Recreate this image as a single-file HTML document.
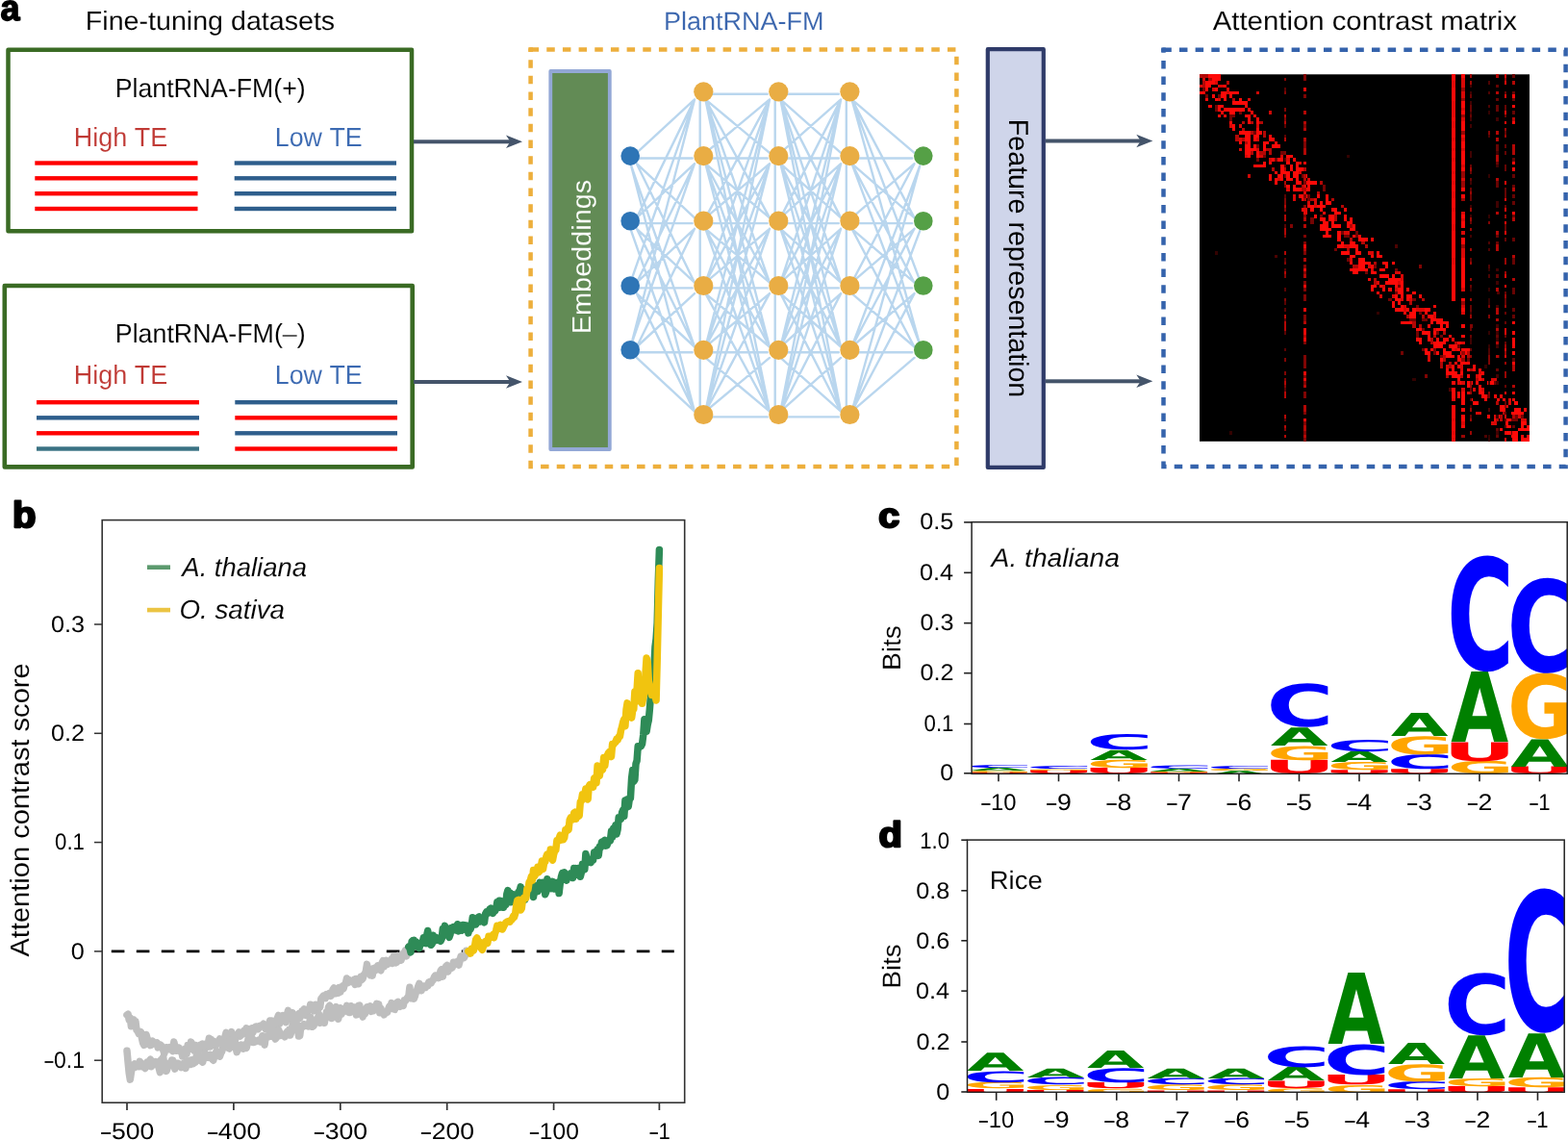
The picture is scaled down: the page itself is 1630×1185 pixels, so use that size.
<!DOCTYPE html>
<html lang="en"><head><meta charset="utf-8"><title>PlantRNA-FM attention contrast</title>
<style>
html,body{margin:0;padding:0;background:#fff;}
body{width:1630px;height:1185px;overflow:hidden;}
svg{display:block;}
text{font-kerning:none;white-space:pre;text-rendering:geometricPrecision;}
</style></head><body>
<svg width="1630" height="1185" viewBox="0 0 1630 1185">
<rect width="1630" height="1185" fill="#fff"/>
<text transform="translate(0.40,20.78) scale(0.9002,0.9446)" font-family="'Liberation Sans',sans-serif" font-size="40" font-weight="bold" fill="#000" stroke="#000" stroke-width="1.63" stroke-linejoin="round">a</text>
<text transform="translate(88.85,30.90) scale(1.0372,1.0000)" font-family="'Liberation Sans',sans-serif" font-size="27.6" fill="#000" stroke="#fff" stroke-width="0.096" paint-order="fill stroke" >Fine-tuning datasets</text>
<rect x="8.5" y="51.8" width="419.5" height="188.5" fill="#fff" stroke="#3A6B24" stroke-width="4.5" stroke-linejoin="round"/>
<rect x="4.8" y="297" width="423.9" height="188.4" fill="#fff" stroke="#3A6B24" stroke-width="4.6" stroke-linejoin="round"/>
<text transform="translate(119.81,101.00) scale(0.9664,1.0000)" font-family="'Liberation Sans',sans-serif" font-size="27.6" fill="#000" stroke="#fff" stroke-width="0.103" paint-order="fill stroke" >PlantRNA-FM(+)</text>
<text transform="translate(119.80,355.50) scale(0.9701,1.0000)" font-family="'Liberation Sans',sans-serif" font-size="27.6" fill="#000" stroke="#fff" stroke-width="0.103" paint-order="fill stroke" >PlantRNA-FM(–)</text>
<text transform="translate(76.79,151.50) scale(0.9766,1.0000)" font-family="'Liberation Sans',sans-serif" font-size="27.6" fill="#C03A35" stroke="#fff" stroke-width="0.102" paint-order="fill stroke" >High TE</text>
<text transform="translate(285.80,151.50) scale(0.9710,1.0000)" font-family="'Liberation Sans',sans-serif" font-size="27.6" fill="#3C6AB2" stroke="#fff" stroke-width="0.103" paint-order="fill stroke" >Low TE</text>
<text transform="translate(76.79,399.00) scale(0.9766,1.0000)" font-family="'Liberation Sans',sans-serif" font-size="27.6" fill="#C03A35" stroke="#fff" stroke-width="0.102" paint-order="fill stroke" >High TE</text>
<text transform="translate(285.80,399.00) scale(0.9710,1.0000)" font-family="'Liberation Sans',sans-serif" font-size="27.6" fill="#3C6AB2" stroke="#fff" stroke-width="0.103" paint-order="fill stroke" >Low TE</text>
<rect x="36.3" y="167.30" width="169.20" height="4.4" fill="#FF0000"/>
<rect x="243.7" y="167.30" width="168.30" height="4.4" fill="#2E5E8C"/>
<rect x="36.3" y="183.10" width="169.20" height="4.4" fill="#FF0000"/>
<rect x="243.7" y="183.10" width="168.30" height="4.4" fill="#2E5E8C"/>
<rect x="36.3" y="199.00" width="169.20" height="4.4" fill="#FF0000"/>
<rect x="243.7" y="199.00" width="168.30" height="4.4" fill="#2E5E8C"/>
<rect x="36.3" y="214.80" width="169.20" height="4.4" fill="#FF0000"/>
<rect x="243.7" y="214.80" width="168.30" height="4.4" fill="#2E5E8C"/>
<rect x="38" y="416.00" width="169.00" height="4.4" fill="#FF0000"/>
<rect x="244.3" y="416.00" width="168.70" height="4.4" fill="#2E5E8C"/>
<rect x="38" y="432.10" width="169.00" height="4.4" fill="#2E5E8C"/>
<rect x="244.3" y="432.10" width="168.70" height="4.4" fill="#FF0000"/>
<rect x="38" y="448.10" width="169.00" height="4.4" fill="#FF0000"/>
<rect x="244.3" y="448.10" width="168.70" height="4.4" fill="#2E5E8C"/>
<rect x="38" y="464.30" width="169.00" height="4.4" fill="#3A7283"/>
<rect x="244.3" y="464.30" width="168.70" height="4.4" fill="#FF0000"/>
<rect x="430" y="145.30" width="103.00" height="4.0" fill="#44546A"/>
<path d="M543,147.3 L526,140.5 L530.5,147.3 L526,154.10000000000002 Z" fill="#44546A"/>
<rect x="430" y="395.00" width="103.00" height="4.0" fill="#44546A"/>
<path d="M543,397.0 L526,390.2 L530.5,397.0 L526,403.8 Z" fill="#44546A"/>
<rect x="1087" y="144.50" width="101.30" height="4.0" fill="#44546A"/>
<path d="M1198.3,146.5 L1181.3,139.7 L1185.8,146.5 L1181.3,153.3 Z" fill="#44546A"/>
<rect x="1087" y="394.30" width="101.30" height="4.0" fill="#44546A"/>
<path d="M1198.3,396.3 L1181.3,389.5 L1185.8,396.3 L1181.3,403.1 Z" fill="#44546A"/>
<rect x="551.6" y="51.6" width="442.80" height="433.40" fill="none" stroke="#EDAF3C" stroke-width="4.5" stroke-dasharray="8.5 8.167" stroke-dashoffset="0.0"/>
<path d="M549.35,53.85 v-2.65 q0,-1.85 1.85,-1.85 h2.65 v4.5 z" fill="#EDAF3C"/>
<text transform="translate(689.98,31.00) scale(1.0157,1.0000)" font-family="'Liberation Sans',sans-serif" font-size="26.6" fill="#3B66AE" stroke="#fff" stroke-width="0.098" paint-order="fill stroke" >PlantRNA-FM</text>
<rect x="572.3" y="74" width="61.5" height="393" fill="#628B55" stroke="#93A8D6" stroke-width="3.8" stroke-linejoin="round"/>
<text transform="translate(613.80,347.17) rotate(-90) scale(1.0455,1.0000)" font-family="'Liberation Sans',sans-serif" font-size="27.6" fill="#fff" stroke="#628B55" stroke-width="0.096" paint-order="fill stroke" >Embeddings</text>
<rect x="1026.8" y="51.2" width="58" height="434.7" fill="#CFD5EA" stroke="#2F3B69" stroke-width="4.2" stroke-linejoin="round"/>
<text transform="translate(1048.60,123.85) rotate(90) scale(1.0005,1.0000)" font-family="'Liberation Sans',sans-serif" font-size="28.6" fill="#000" >Feature representation</text>
<path d="M661.9,158.8L722.0,103.4 M664.2,164.5L719.7,164.5 M661.9,170.2L722.0,226.4 M661.9,170.2L722.0,293.7 M656.2,172.5L722.0,360.5 M656.2,172.5L722.0,427.7 M661.9,226.4L722.0,103.4 M661.9,226.4L722.0,170.2 M664.2,232.1L719.7,232.1 M661.9,237.8L722.0,293.7 M661.9,237.8L722.0,360.5 M656.2,240.1L722.0,427.7 M656.2,291.4L722.0,103.4 M661.9,293.7L722.0,170.2 M661.9,293.7L722.0,237.8 M664.2,299.4L719.7,299.4 M661.9,305.1L722.0,360.5 M661.9,305.1L722.0,427.7 M656.2,358.2L722.0,103.4 M656.2,358.2L722.0,170.2 M661.9,360.5L722.0,237.8 M661.9,360.5L722.0,305.1 M664.2,366.2L719.7,366.2 M661.9,371.9L722.0,427.7 M735.7,97.7L797.7,97.7 M733.4,103.4L800.0,158.8 M733.4,103.4L800.0,226.4 M733.4,103.4L800.0,293.7 M733.4,103.4L800.0,360.5 M733.4,103.4L800.0,427.7 M733.4,158.8L800.0,103.4 M735.7,164.5L797.7,164.5 M733.4,170.2L800.0,226.4 M733.4,170.2L800.0,293.7 M733.4,170.2L800.0,360.5 M733.4,170.2L800.0,427.7 M733.4,226.4L800.0,103.4 M733.4,226.4L800.0,170.2 M735.7,232.1L797.7,232.1 M733.4,237.8L800.0,293.7 M733.4,237.8L800.0,360.5 M733.4,237.8L800.0,427.7 M733.4,293.7L800.0,103.4 M733.4,293.7L800.0,170.2 M733.4,293.7L800.0,237.8 M735.7,299.4L797.7,299.4 M733.4,305.1L800.0,360.5 M733.4,305.1L800.0,427.7 M733.4,360.5L800.0,103.4 M733.4,360.5L800.0,170.2 M733.4,360.5L800.0,237.8 M733.4,360.5L800.0,305.1 M735.7,366.2L797.7,366.2 M733.4,371.9L800.0,427.7 M733.4,427.7L800.0,103.4 M733.4,427.7L800.0,170.2 M733.4,427.7L800.0,237.8 M733.4,427.7L800.0,305.1 M733.4,427.7L800.0,371.9 M735.7,433.4L797.7,433.4 M813.7,97.7L871.8,97.7 M811.4,103.4L874.1,158.8 M811.4,103.4L874.1,226.4 M811.4,103.4L874.1,293.7 M811.4,103.4L874.1,360.5 M811.4,103.4L874.1,427.7 M811.4,158.8L874.1,103.4 M813.7,164.5L871.8,164.5 M811.4,170.2L874.1,226.4 M811.4,170.2L874.1,293.7 M811.4,170.2L874.1,360.5 M811.4,170.2L874.1,427.7 M811.4,226.4L874.1,103.4 M811.4,226.4L874.1,170.2 M813.7,232.1L871.8,232.1 M811.4,237.8L874.1,293.7 M811.4,237.8L874.1,360.5 M811.4,237.8L874.1,427.7 M811.4,293.7L874.1,103.4 M811.4,293.7L874.1,170.2 M811.4,293.7L874.1,237.8 M813.7,299.4L871.8,299.4 M811.4,305.1L874.1,360.5 M811.4,305.1L874.1,427.7 M811.4,360.5L874.1,103.4 M811.4,360.5L874.1,170.2 M811.4,360.5L874.1,237.8 M811.4,360.5L874.1,305.1 M813.7,366.2L871.8,366.2 M811.4,371.9L874.1,427.7 M811.4,427.7L874.1,103.4 M811.4,427.7L874.1,170.2 M811.4,427.7L874.1,237.8 M811.4,427.7L874.1,305.1 M811.4,427.7L874.1,371.9 M813.7,433.4L871.8,433.4 M885.5,103.4L950.5,158.8 M885.5,103.4L950.5,226.4 M885.5,103.4L956.2,291.4 M885.5,103.4L956.2,358.2 M887.8,164.5L948.2,164.5 M885.5,170.2L950.5,226.4 M885.5,170.2L950.5,293.7 M885.5,170.2L956.2,358.2 M885.5,226.4L950.5,170.2 M887.8,232.1L948.2,232.1 M885.5,237.8L950.5,293.7 M885.5,237.8L950.5,360.5 M885.5,293.7L950.5,170.2 M885.5,293.7L950.5,237.8 M887.8,299.4L948.2,299.4 M885.5,305.1L950.5,360.5 M885.5,360.5L956.2,172.5 M885.5,360.5L950.5,237.8 M885.5,360.5L950.5,305.1 M887.8,366.2L948.2,366.2 M885.5,427.7L956.2,172.5 M885.5,427.7L956.2,240.1 M885.5,427.7L950.5,305.1 M885.5,427.7L950.5,371.9 M727.7,97.7V433.4 M805.7,97.7V433.4 M879.8,97.7V433.4" fill="none" stroke="#B9D6EE" stroke-width="2.4" stroke-linecap="round"/>
<circle cx="655.2" cy="162.1" r="9.8" fill="#2E75B6"/>
<circle cx="655.2" cy="229.7" r="9.8" fill="#2E75B6"/>
<circle cx="655.2" cy="297.0" r="9.8" fill="#2E75B6"/>
<circle cx="655.2" cy="363.8" r="9.8" fill="#2E75B6"/>
<circle cx="731.3" cy="95.3" r="10.1" fill="#E9AD44"/>
<circle cx="731.3" cy="162.1" r="10.1" fill="#E9AD44"/>
<circle cx="731.3" cy="229.7" r="10.1" fill="#E9AD44"/>
<circle cx="731.3" cy="297.0" r="10.1" fill="#E9AD44"/>
<circle cx="731.3" cy="363.8" r="10.1" fill="#E9AD44"/>
<circle cx="731.3" cy="431.0" r="10.1" fill="#E9AD44"/>
<circle cx="809.3" cy="95.3" r="10.1" fill="#E9AD44"/>
<circle cx="809.3" cy="162.1" r="10.1" fill="#E9AD44"/>
<circle cx="809.3" cy="229.7" r="10.1" fill="#E9AD44"/>
<circle cx="809.3" cy="297.0" r="10.1" fill="#E9AD44"/>
<circle cx="809.3" cy="363.8" r="10.1" fill="#E9AD44"/>
<circle cx="809.3" cy="431.0" r="10.1" fill="#E9AD44"/>
<circle cx="883.4" cy="95.3" r="10.1" fill="#E9AD44"/>
<circle cx="883.4" cy="162.1" r="10.1" fill="#E9AD44"/>
<circle cx="883.4" cy="229.7" r="10.1" fill="#E9AD44"/>
<circle cx="883.4" cy="297.0" r="10.1" fill="#E9AD44"/>
<circle cx="883.4" cy="363.8" r="10.1" fill="#E9AD44"/>
<circle cx="883.4" cy="431.0" r="10.1" fill="#E9AD44"/>
<circle cx="959.8" cy="162.1" r="9.8" fill="#55A046"/>
<circle cx="959.8" cy="229.7" r="9.8" fill="#55A046"/>
<circle cx="959.8" cy="297.0" r="9.8" fill="#55A046"/>
<circle cx="959.8" cy="363.8" r="9.8" fill="#55A046"/>
<text transform="translate(1260.74,30.90) scale(1.0631,1.0000)" font-family="'Liberation Sans',sans-serif" font-size="27.6" fill="#000" stroke="#fff" stroke-width="0.094" paint-order="fill stroke" >Attention contrast matrix</text>
<rect x="1209.5" y="51.65" width="418.10" height="433.35" fill="none" stroke="#3563AC" stroke-width="4.5" stroke-dasharray="8.5 8.167" stroke-dashoffset="0.2"/>
<path d="M1207.25,53.90 v-2.65 q0,-1.85 1.85,-1.85 h2.65 v4.5 z" fill="#3563AC"/>
<rect x="1247.0" y="77.3" width="343.0" height="381.5" fill="#000"/>
<g shape-rendering="crispEdges">
<path d="M1399.8,160.5h3.1v3.5h-3.1zM1262.6,261.1h3.1v3.5h-3.1zM1431.0,323.5h3.1v3.5h-3.1zM1543.2,379.0h3.1v3.5h-3.1zM1468.4,392.9h3.1v3.5h-3.1zM1278.2,448.4h3.1v3.5h-3.1z" fill="#330201"/>
<path d="M1449.7,254.2h3.1v3.5h-3.1zM1325.0,264.6h3.1v3.5h-3.1zM1555.7,302.7h3.1v3.5h-3.1zM1555.7,368.6h3.1v3.5h-3.1zM1505.8,403.3h3.1v3.5h-3.1zM1543.2,451.9h3.1v3.5h-3.1z" fill="#4d0302"/>
<path d="M1250.1,91.2h3.1v3.5h-3.1zM1253.2,98.1h3.1v3.5h-3.1zM1265.7,98.1h3.1v3.5h-3.1zM1262.6,108.5h3.1v3.5h-3.1zM1262.6,112.0h3.1v3.5h-3.1zM1287.5,115.4h3.1v3.5h-3.1zM1278.2,118.9h6.2v3.5h-6.2zM1278.2,122.4h3.1v3.5h-3.1zM1303.1,136.3h3.1v3.5h-3.1zM1306.2,150.1h3.1v3.5h-3.1zM1331.2,157.1h6.2v3.5h-6.2zM1312.5,160.5h3.1v3.5h-3.1zM1306.2,164.0h3.1v3.5h-3.1zM1325.0,164.0h3.1v3.5h-3.1zM1353.0,181.3h3.1v3.5h-3.1zM1374.8,191.8h3.1v3.5h-3.1zM1374.8,195.2h3.1v3.5h-3.1zM1359.3,202.2h3.1v3.5h-3.1zM1359.3,205.6h3.1v3.5h-3.1zM1371.7,223.0h3.1v3.5h-3.1zM1362.4,226.4h3.1v3.5h-3.1zM1362.4,229.9h3.1v3.5h-3.1zM1393.6,240.3h3.1v3.5h-3.1zM1409.1,240.3h3.1v3.5h-3.1zM1396.7,243.8h6.2v3.5h-6.2zM1409.1,243.8h3.1v3.5h-3.1zM1508.9,254.2h3.1v3.5h-3.1zM1387.3,257.6h3.1v3.5h-3.1zM1399.8,268.1h3.1v3.5h-3.1zM1427.9,275.0h3.1v3.5h-3.1zM1449.7,278.5h3.1v3.5h-3.1zM1418.5,281.9h3.1v3.5h-3.1zM1452.8,295.8h3.1v3.5h-3.1zM1449.7,302.7h3.1v3.5h-3.1zM1443.4,309.7h3.1v3.5h-3.1zM1468.4,309.7h3.1v3.5h-3.1zM1471.5,316.6h3.1v3.5h-3.1zM1474.6,323.5h3.1v3.5h-3.1zM1465.3,330.5h6.2v3.5h-6.2zM1477.7,330.5h6.2v3.5h-6.2zM1477.7,340.9h3.1v3.5h-3.1zM1471.5,344.4h3.1v3.5h-3.1zM1493.3,344.4h3.1v3.5h-3.1zM1471.5,347.8h3.1v3.5h-3.1zM1496.5,347.8h3.1v3.5h-3.1zM1515.2,358.2h3.1v3.5h-3.1zM1477.7,361.7h3.1v3.5h-3.1zM1490.2,361.7h3.1v3.5h-3.1zM1455.9,365.2h3.1v3.5h-3.1zM1490.2,365.2h3.1v3.5h-3.1zM1496.5,368.6h3.1v3.5h-3.1zM1524.5,372.1h3.1v3.5h-3.1zM1552.6,396.4h3.1v3.5h-3.1zM1546.3,410.2h3.1v3.5h-3.1zM1574.4,431.1h3.1v3.5h-3.1zM1580.6,431.1h3.1v3.5h-3.1zM1571.3,434.5h6.2v3.5h-6.2zM1571.3,448.4h3.1v3.5h-3.1z" fill="#730403"/>
<path d="M1340.5,233.4h3.1v3.5h-3.1zM1474.6,275.0h3.1v3.5h-3.1zM1527.6,337.4h3.1v3.5h-3.1zM1480.9,389.4h3.1v3.5h-3.1zM1508.9,424.1h3.1v3.5h-3.1z" fill="#800504"/>
<path d="M1247.0,77.3h9.4v3.5h-9.4zM1256.4,80.8h3.1v3.5h-3.1zM1250.1,84.2h3.1v3.5h-3.1zM1275.1,84.2h3.1v3.5h-3.1zM1250.1,87.7h3.1v3.5h-3.1zM1281.3,101.6h3.1v3.5h-3.1zM1290.7,125.9h3.1v3.5h-3.1zM1300.0,125.9h3.1v3.5h-3.1zM1309.4,125.9h3.1v3.5h-3.1zM1290.7,132.8h3.1v3.5h-3.1zM1300.0,136.3h3.1v3.5h-3.1zM1312.5,136.3h3.1v3.5h-3.1zM1284.4,139.7h3.1v3.5h-3.1zM1312.5,139.7h3.1v3.5h-3.1zM1284.4,143.2h3.1v3.5h-3.1zM1290.7,143.2h3.1v3.5h-3.1zM1293.8,146.7h3.1v3.5h-3.1zM1315.6,153.6h6.2v3.5h-6.2zM1300.0,157.1h3.1v3.5h-3.1zM1309.4,157.1h6.2v3.5h-6.2zM1318.7,157.1h3.1v3.5h-3.1zM1321.8,174.4h3.1v3.5h-3.1zM1371.7,188.3h3.1v3.5h-3.1zM1353.0,191.8h3.1v3.5h-3.1zM1353.0,195.2h3.1v3.5h-3.1zM1368.6,198.7h3.1v3.5h-3.1zM1362.4,205.6h3.1v3.5h-3.1zM1384.2,205.6h3.1v3.5h-3.1zM1393.6,212.6h3.1v3.5h-3.1zM1387.3,223.0h3.1v3.5h-3.1zM1387.3,226.4h3.1v3.5h-3.1zM1402.9,233.4h3.1v3.5h-3.1zM1402.9,247.2h3.1v3.5h-3.1zM1415.4,250.7h3.1v3.5h-3.1zM1418.5,254.2h3.1v3.5h-3.1zM1399.8,257.6h3.1v3.5h-3.1zM1427.9,271.5h3.1v3.5h-3.1zM1406.0,275.0h6.2v3.5h-6.2zM1427.9,288.9h3.1v3.5h-3.1zM1427.9,292.3h3.1v3.5h-3.1zM1477.7,309.7h3.1v3.5h-3.1zM1465.3,313.1h3.1v3.5h-3.1zM1462.2,327.0h3.1v3.5h-3.1zM1477.7,327.0h3.1v3.5h-3.1zM1468.4,333.9h3.1v3.5h-3.1zM1468.4,337.4h3.1v3.5h-3.1zM1474.6,337.4h3.1v3.5h-3.1zM1499.6,344.4h3.1v3.5h-3.1zM1490.2,347.8h3.1v3.5h-3.1zM1487.1,351.3h3.1v3.5h-3.1zM1487.1,354.8h3.1v3.5h-3.1zM1512.0,354.8h3.1v3.5h-3.1zM1524.5,365.2h3.1v3.5h-3.1zM1499.6,368.6h3.1v3.5h-3.1zM1524.5,368.6h3.1v3.5h-3.1zM1499.6,372.1h3.1v3.5h-3.1zM1496.5,375.6h3.1v3.5h-3.1zM1505.8,375.6h3.1v3.5h-3.1zM1496.5,379.0h3.1v3.5h-3.1zM1505.8,379.0h3.1v3.5h-3.1zM1527.6,382.5h3.1v3.5h-3.1zM1502.7,389.4h3.1v3.5h-3.1zM1518.3,389.4h3.1v3.5h-3.1zM1533.9,392.9h3.1v3.5h-3.1zM1561.9,427.6h3.1v3.5h-3.1zM1558.8,431.1h3.1v3.5h-3.1zM1558.8,434.5h3.1v3.5h-3.1z" fill="#b30705"/>
<path d="M1306.2,94.6h3.1v3.5h-3.1zM1318.7,115.4h3.1v3.5h-3.1zM1296.9,181.3h3.1v3.5h-3.1z" fill="#cc0806"/>
<path d="M1250.1,80.8h3.1v3.5h-3.1zM1262.6,84.2h3.1v3.5h-3.1zM1247.0,87.7h3.1v3.5h-3.1zM1265.7,87.7h6.2v3.5h-6.2zM1259.5,91.2h3.1v3.5h-3.1zM1275.1,91.2h3.1v3.5h-3.1zM1275.1,94.6h3.1v3.5h-3.1zM1265.7,101.6h3.1v3.5h-3.1zM1296.9,101.6h3.1v3.5h-3.1zM1278.2,129.3h3.1v3.5h-3.1zM1287.5,129.3h3.1v3.5h-3.1zM1306.2,129.3h3.1v3.5h-3.1zM1287.5,143.2h3.1v3.5h-3.1zM1306.2,143.2h3.1v3.5h-3.1zM1287.5,153.6h3.1v3.5h-3.1zM1306.2,153.6h3.1v3.5h-3.1zM1293.8,160.5h3.1v3.5h-3.1zM1309.4,160.5h3.1v3.5h-3.1zM1331.2,160.5h3.1v3.5h-3.1zM1318.7,164.0h3.1v3.5h-3.1zM1337.4,164.0h3.1v3.5h-3.1zM1349.9,167.5h3.1v3.5h-3.1zM1349.9,177.9h3.1v3.5h-3.1zM1328.1,184.8h3.1v3.5h-3.1zM1359.3,184.8h3.1v3.5h-3.1zM1337.4,195.2h3.1v3.5h-3.1zM1343.7,202.2h3.1v3.5h-3.1zM1343.7,205.6h3.1v3.5h-3.1zM1365.5,205.6h3.1v3.5h-3.1zM1359.3,209.1h3.1v3.5h-3.1zM1365.5,209.1h3.1v3.5h-3.1zM1365.5,212.6h3.1v3.5h-3.1zM1396.7,240.3h6.2v3.5h-6.2zM1396.7,254.2h6.2v3.5h-6.2zM1421.6,261.1h6.2v3.5h-6.2zM1402.9,268.1h3.1v3.5h-3.1zM1421.6,275.0h3.1v3.5h-3.1zM1424.7,278.5h3.1v3.5h-3.1zM1449.7,281.9h6.2v3.5h-6.2zM1455.9,285.4h3.1v3.5h-3.1zM1455.9,288.9h3.1v3.5h-3.1zM1431.0,292.3h3.1v3.5h-3.1zM1452.8,292.3h3.1v3.5h-3.1zM1437.2,295.8h3.1v3.5h-3.1zM1449.7,299.3h3.1v3.5h-3.1zM1434.1,306.2h3.1v3.5h-3.1zM1446.6,306.2h3.1v3.5h-3.1zM1455.9,309.7h3.1v3.5h-3.1zM1465.3,309.7h3.1v3.5h-3.1zM1459.0,316.6h3.1v3.5h-3.1zM1459.0,320.1h3.1v3.5h-3.1zM1471.5,320.1h9.4v3.5h-9.4zM1490.2,327.0h3.1v3.5h-3.1zM1490.2,340.9h3.1v3.5h-3.1zM1512.0,361.7h3.1v3.5h-3.1zM1484.0,368.6h3.1v3.5h-3.1zM1484.0,372.1h3.1v3.5h-3.1zM1502.7,379.0h3.1v3.5h-3.1zM1518.3,379.0h3.1v3.5h-3.1zM1518.3,382.5h3.1v3.5h-3.1zM1537.0,386.0h3.1v3.5h-3.1zM1533.9,389.4h3.1v3.5h-3.1zM1540.1,392.9h3.1v3.5h-3.1zM1549.5,392.9h6.2v3.5h-6.2zM1515.2,396.4h3.1v3.5h-3.1zM1530.8,403.3h3.1v3.5h-3.1zM1540.1,403.3h3.1v3.5h-3.1zM1524.5,406.8h3.1v3.5h-3.1zM1568.2,413.7h3.1v3.5h-3.1zM1568.2,417.2h3.1v3.5h-3.1zM1565.1,420.7h3.1v3.5h-3.1zM1533.9,427.6h6.2v3.5h-6.2zM1552.6,431.1h3.1v3.5h-3.1zM1577.5,431.1h3.1v3.5h-3.1zM1580.6,434.5h6.2v3.5h-6.2zM1549.5,438.0h6.2v3.5h-6.2z" fill="#d90806"/>
<path d="M1256.4,77.3h12.5v3.5h-12.5zM1259.5,80.8h9.4v3.5h-9.4zM1253.2,84.2h9.4v3.5h-9.4zM1253.2,87.7h6.2v3.5h-6.2zM1271.9,87.7h3.1v3.5h-3.1zM1253.2,91.2h3.1v3.5h-3.1zM1262.6,91.2h3.1v3.5h-3.1zM1247.0,94.6h6.2v3.5h-6.2zM1268.8,94.6h6.2v3.5h-6.2zM1278.2,94.6h9.4v3.5h-9.4zM1259.5,98.1h3.1v3.5h-3.1zM1268.8,98.1h6.2v3.5h-6.2zM1278.2,98.1h3.1v3.5h-3.1zM1253.2,101.6h3.1v3.5h-3.1zM1262.6,101.6h3.1v3.5h-3.1zM1271.9,101.6h3.1v3.5h-3.1zM1287.5,101.6h3.1v3.5h-3.1zM1281.3,105.0h15.6v3.5h-15.6zM1256.4,108.5h3.1v3.5h-3.1zM1265.7,108.5h6.2v3.5h-6.2zM1293.8,108.5h3.1v3.5h-3.1zM1265.7,112.0h3.1v3.5h-3.1zM1271.9,112.0h21.8v3.5h-21.8zM1296.9,112.0h3.1v3.5h-3.1zM1268.8,115.4h3.1v3.5h-3.1zM1278.2,115.4h6.2v3.5h-6.2zM1300.0,115.4h3.1v3.5h-3.1zM1265.7,118.9h3.1v3.5h-3.1zM1271.9,118.9h3.1v3.5h-3.1zM1293.8,118.9h6.2v3.5h-6.2zM1303.1,118.9h3.1v3.5h-3.1zM1296.9,122.4h3.1v3.5h-3.1zM1306.2,122.4h3.1v3.5h-3.1zM1278.2,125.9h3.1v3.5h-3.1zM1296.9,125.9h3.1v3.5h-3.1zM1306.2,125.9h3.1v3.5h-3.1zM1281.3,129.3h3.1v3.5h-3.1zM1281.3,132.8h3.1v3.5h-3.1zM1306.2,132.8h3.1v3.5h-3.1zM1287.5,136.3h12.5v3.5h-12.5zM1306.2,136.3h6.2v3.5h-6.2zM1293.8,139.7h6.2v3.5h-6.2zM1303.1,139.7h6.2v3.5h-6.2zM1318.7,139.7h3.1v3.5h-3.1zM1293.8,143.2h6.2v3.5h-6.2zM1303.1,143.2h3.1v3.5h-3.1zM1318.7,143.2h6.2v3.5h-6.2zM1287.5,146.7h3.1v3.5h-3.1zM1296.9,146.7h3.1v3.5h-3.1zM1312.5,146.7h6.2v3.5h-6.2zM1325.0,146.7h3.1v3.5h-3.1zM1293.8,150.1h6.2v3.5h-6.2zM1303.1,150.1h3.1v3.5h-3.1zM1312.5,150.1h3.1v3.5h-3.1zM1321.8,150.1h9.4v3.5h-9.4zM1293.8,153.6h12.5v3.5h-12.5zM1312.5,153.6h3.1v3.5h-3.1zM1293.8,157.1h6.2v3.5h-6.2zM1306.2,157.1h3.1v3.5h-3.1zM1296.9,160.5h3.1v3.5h-3.1zM1306.2,160.5h3.1v3.5h-3.1zM1337.4,160.5h6.2v3.5h-6.2zM1321.8,164.0h3.1v3.5h-3.1zM1328.1,164.0h6.2v3.5h-6.2zM1343.7,164.0h3.1v3.5h-3.1zM1312.5,167.5h3.1v3.5h-3.1zM1318.7,167.5h3.1v3.5h-3.1zM1337.4,167.5h3.1v3.5h-3.1zM1346.8,167.5h3.1v3.5h-3.1zM1303.1,170.9h12.5v3.5h-12.5zM1331.2,170.9h6.2v3.5h-6.2zM1340.5,170.9h3.1v3.5h-3.1zM1346.8,170.9h3.1v3.5h-3.1zM1331.2,174.4h6.2v3.5h-6.2zM1340.5,174.4h3.1v3.5h-3.1zM1346.8,174.4h9.4v3.5h-9.4zM1325.0,177.9h3.1v3.5h-3.1zM1331.2,177.9h9.4v3.5h-9.4zM1343.7,177.9h6.2v3.5h-6.2zM1318.7,181.3h3.1v3.5h-3.1zM1328.1,181.3h6.2v3.5h-6.2zM1337.4,181.3h3.1v3.5h-3.1zM1343.7,181.3h6.2v3.5h-6.2zM1356.1,181.3h3.1v3.5h-3.1zM1318.7,184.8h3.1v3.5h-3.1zM1325.0,184.8h3.1v3.5h-3.1zM1331.2,184.8h3.1v3.5h-3.1zM1337.4,184.8h6.2v3.5h-6.2zM1346.8,184.8h3.1v3.5h-3.1zM1325.0,188.3h3.1v3.5h-3.1zM1346.8,188.3h6.2v3.5h-6.2zM1356.1,188.3h12.5v3.5h-12.5zM1337.4,191.8h3.1v3.5h-3.1zM1343.7,191.8h3.1v3.5h-3.1zM1359.3,191.8h3.1v3.5h-3.1zM1343.7,195.2h9.4v3.5h-9.4zM1356.1,195.2h6.2v3.5h-6.2zM1349.9,202.2h9.4v3.5h-9.4zM1368.6,202.2h3.1v3.5h-3.1zM1378.0,202.2h3.1v3.5h-3.1zM1353.0,205.6h3.1v3.5h-3.1zM1378.0,205.6h3.1v3.5h-3.1zM1371.7,209.1h3.1v3.5h-3.1zM1378.0,209.1h6.2v3.5h-6.2zM1359.3,212.6h6.2v3.5h-6.2zM1368.6,212.6h9.4v3.5h-9.4zM1353.0,216.0h6.2v3.5h-6.2zM1362.4,216.0h3.1v3.5h-3.1zM1371.7,216.0h3.1v3.5h-3.1zM1384.2,216.0h6.2v3.5h-6.2zM1396.7,216.0h3.1v3.5h-3.1zM1356.1,219.5h3.1v3.5h-3.1zM1374.8,219.5h3.1v3.5h-3.1zM1387.3,219.5h6.2v3.5h-6.2zM1365.5,223.0h3.1v3.5h-3.1zM1381.1,223.0h6.2v3.5h-6.2zM1396.7,223.0h3.1v3.5h-3.1zM1371.7,226.4h6.2v3.5h-6.2zM1381.1,226.4h6.2v3.5h-6.2zM1396.7,226.4h3.1v3.5h-3.1zM1402.9,226.4h3.1v3.5h-3.1zM1374.8,229.9h6.2v3.5h-6.2zM1384.2,229.9h3.1v3.5h-3.1zM1399.8,229.9h6.2v3.5h-6.2zM1371.7,233.4h9.4v3.5h-9.4zM1384.2,233.4h9.4v3.5h-9.4zM1399.8,233.4h3.1v3.5h-3.1zM1406.0,233.4h3.1v3.5h-3.1zM1371.7,236.8h12.5v3.5h-12.5zM1402.9,236.8h6.2v3.5h-6.2zM1378.0,240.3h3.1v3.5h-3.1zM1390.4,240.3h3.1v3.5h-3.1zM1374.8,243.8h9.4v3.5h-9.4zM1390.4,243.8h3.1v3.5h-3.1zM1406.0,243.8h3.1v3.5h-3.1zM1412.3,243.8h3.1v3.5h-3.1zM1390.4,247.2h3.1v3.5h-3.1zM1412.3,247.2h9.4v3.5h-9.4zM1424.7,247.2h3.1v3.5h-3.1zM1393.6,250.7h3.1v3.5h-3.1zM1402.9,250.7h6.2v3.5h-6.2zM1390.4,254.2h6.2v3.5h-6.2zM1402.9,254.2h9.4v3.5h-9.4zM1409.1,257.6h3.1v3.5h-3.1zM1393.6,261.1h9.4v3.5h-9.4zM1409.1,261.1h6.2v3.5h-6.2zM1431.0,261.1h3.1v3.5h-3.1zM1402.9,264.6h6.2v3.5h-6.2zM1424.7,264.6h3.1v3.5h-3.1zM1431.0,264.6h6.2v3.5h-6.2zM1412.3,268.1h6.2v3.5h-6.2zM1402.9,271.5h3.1v3.5h-3.1zM1412.3,271.5h12.5v3.5h-12.5zM1437.2,271.5h6.2v3.5h-6.2zM1446.6,271.5h3.1v3.5h-3.1zM1412.3,275.0h6.2v3.5h-6.2zM1424.7,275.0h3.1v3.5h-3.1zM1440.3,275.0h3.1v3.5h-3.1zM1402.9,278.5h18.7v3.5h-18.7zM1434.1,278.5h6.2v3.5h-6.2zM1406.0,281.9h6.2v3.5h-6.2zM1424.7,281.9h6.2v3.5h-6.2zM1434.1,285.4h9.4v3.5h-9.4zM1446.6,285.4h3.1v3.5h-3.1zM1421.6,288.9h3.1v3.5h-3.1zM1443.4,288.9h12.5v3.5h-12.5zM1440.3,292.3h12.5v3.5h-12.5zM1455.9,292.3h3.1v3.5h-3.1zM1424.7,295.8h6.2v3.5h-6.2zM1434.1,295.8h3.1v3.5h-3.1zM1449.7,295.8h3.1v3.5h-3.1zM1455.9,295.8h3.1v3.5h-3.1zM1424.7,299.3h3.1v3.5h-3.1zM1437.2,299.3h3.1v3.5h-3.1zM1443.4,299.3h3.1v3.5h-3.1zM1452.8,299.3h6.2v3.5h-6.2zM1462.2,299.3h3.1v3.5h-3.1zM1431.0,302.7h3.1v3.5h-3.1zM1452.8,302.7h6.2v3.5h-6.2zM1468.4,302.7h3.1v3.5h-3.1zM1449.7,306.2h3.1v3.5h-3.1zM1455.9,306.2h3.1v3.5h-3.1zM1462.2,306.2h6.2v3.5h-6.2zM1474.6,306.2h3.1v3.5h-3.1zM1449.7,309.7h6.2v3.5h-6.2zM1462.2,309.7h3.1v3.5h-3.1zM1446.6,313.1h3.1v3.5h-3.1zM1452.8,313.1h3.1v3.5h-3.1zM1446.6,316.6h3.1v3.5h-3.1zM1455.9,316.6h3.1v3.5h-3.1zM1490.2,316.6h3.1v3.5h-3.1zM1449.7,320.1h9.4v3.5h-9.4zM1462.2,320.1h3.1v3.5h-3.1zM1468.4,320.1h3.1v3.5h-3.1zM1480.9,320.1h6.2v3.5h-6.2zM1459.0,323.5h3.1v3.5h-3.1zM1465.3,323.5h6.2v3.5h-6.2zM1480.9,323.5h3.1v3.5h-3.1zM1490.2,323.5h3.1v3.5h-3.1zM1465.3,327.0h6.2v3.5h-6.2zM1484.0,327.0h6.2v3.5h-6.2zM1487.1,330.5h12.5v3.5h-12.5zM1455.9,333.9h12.5v3.5h-12.5zM1487.1,333.9h3.1v3.5h-3.1zM1493.3,333.9h12.5v3.5h-12.5zM1484.0,337.4h3.1v3.5h-3.1zM1496.5,337.4h3.1v3.5h-3.1zM1502.7,337.4h3.1v3.5h-3.1zM1471.5,340.9h6.2v3.5h-6.2zM1493.3,340.9h9.4v3.5h-9.4zM1477.7,344.4h9.4v3.5h-9.4zM1490.2,344.4h3.1v3.5h-3.1zM1484.0,347.8h3.1v3.5h-3.1zM1505.8,347.8h3.1v3.5h-3.1zM1471.5,351.3h6.2v3.5h-6.2zM1484.0,351.3h3.1v3.5h-3.1zM1493.3,351.3h3.1v3.5h-3.1zM1499.6,351.3h6.2v3.5h-6.2zM1508.9,351.3h3.1v3.5h-3.1zM1474.6,354.8h3.1v3.5h-3.1zM1490.2,354.8h12.5v3.5h-12.5zM1515.2,354.8h6.2v3.5h-6.2zM1490.2,358.2h9.4v3.5h-9.4zM1505.8,358.2h9.4v3.5h-9.4zM1480.9,361.7h3.1v3.5h-3.1zM1487.1,361.7h3.1v3.5h-3.1zM1499.6,361.7h3.1v3.5h-3.1zM1508.9,361.7h3.1v3.5h-3.1zM1515.2,361.7h3.1v3.5h-3.1zM1521.4,361.7h6.2v3.5h-6.2zM1480.9,365.2h6.2v3.5h-6.2zM1493.3,365.2h3.1v3.5h-3.1zM1499.6,365.2h9.4v3.5h-9.4zM1518.3,365.2h6.2v3.5h-6.2zM1502.7,368.6h9.4v3.5h-9.4zM1515.2,368.6h3.1v3.5h-3.1zM1496.5,372.1h3.1v3.5h-3.1zM1515.2,372.1h6.2v3.5h-6.2zM1512.0,375.6h3.1v3.5h-3.1zM1518.3,375.6h9.4v3.5h-9.4zM1508.9,379.0h3.1v3.5h-3.1zM1515.2,379.0h3.1v3.5h-3.1zM1530.8,379.0h3.1v3.5h-3.1zM1502.7,382.5h3.1v3.5h-3.1zM1508.9,382.5h3.1v3.5h-3.1zM1524.5,382.5h3.1v3.5h-3.1zM1530.8,382.5h3.1v3.5h-3.1zM1537.0,382.5h3.1v3.5h-3.1zM1502.7,386.0h12.5v3.5h-12.5zM1518.3,386.0h3.1v3.5h-3.1zM1540.1,386.0h3.1v3.5h-3.1zM1508.9,389.4h9.4v3.5h-9.4zM1524.5,389.4h3.1v3.5h-3.1zM1537.0,389.4h3.1v3.5h-3.1zM1515.2,392.9h3.1v3.5h-3.1zM1537.0,392.9h3.1v3.5h-3.1zM1518.3,396.4h3.1v3.5h-3.1zM1524.5,396.4h6.2v3.5h-6.2zM1533.9,396.4h3.1v3.5h-3.1zM1546.3,396.4h6.2v3.5h-6.2zM1524.5,399.8h3.1v3.5h-3.1zM1537.0,399.8h3.1v3.5h-3.1zM1537.0,403.3h3.1v3.5h-3.1zM1515.2,406.8h3.1v3.5h-3.1zM1537.0,406.8h6.2v3.5h-6.2zM1515.2,410.2h3.1v3.5h-3.1zM1540.1,410.2h6.2v3.5h-6.2zM1552.6,410.2h3.1v3.5h-3.1zM1558.8,410.2h3.1v3.5h-3.1zM1527.6,413.7h3.1v3.5h-3.1zM1543.2,413.7h3.1v3.5h-3.1zM1555.7,413.7h3.1v3.5h-3.1zM1561.9,413.7h3.1v3.5h-3.1zM1530.8,417.2h6.2v3.5h-6.2zM1574.4,417.2h3.1v3.5h-3.1zM1558.8,420.7h6.2v3.5h-6.2zM1558.8,424.1h6.2v3.5h-6.2zM1574.4,424.1h6.2v3.5h-6.2zM1583.8,424.1h3.1v3.5h-3.1zM1571.3,427.6h12.5v3.5h-12.5zM1546.3,431.1h3.1v3.5h-3.1zM1555.7,431.1h3.1v3.5h-3.1zM1552.6,434.5h3.1v3.5h-3.1zM1565.1,434.5h6.2v3.5h-6.2zM1565.1,438.0h3.1v3.5h-3.1zM1580.6,438.0h6.2v3.5h-6.2zM1565.1,441.5h6.2v3.5h-6.2zM1580.6,441.5h3.1v3.5h-3.1zM1586.9,441.5h3.1v3.5h-3.1zM1558.8,444.9h3.1v3.5h-3.1zM1577.5,444.9h12.5v3.5h-12.5zM1565.1,448.4h6.2v3.5h-6.2zM1574.4,448.4h3.1v3.5h-3.1zM1571.3,451.9h6.2v3.5h-6.2zM1580.6,451.9h3.1v3.5h-3.1zM1586.9,451.9h3.1v3.5h-3.1zM1574.4,455.3h3.1v3.5h-3.1zM1580.6,455.3h9.4v3.5h-9.4z" fill="#ff0a08"/>
<path d="M1547.0,115.4h2.0v3.5h-2.0zM1547.0,181.3h2.0v3.5h-2.0zM1547.0,223.0h2.0v3.5h-2.0zM1547.0,278.5h2.0v3.5h-2.0zM1547.0,299.3h2.0v3.5h-2.0zM1547.0,309.7h2.0v3.5h-2.0zM1547.0,313.1h2.0v3.5h-2.0zM1547.0,344.4h2.0v3.5h-2.0zM1547.0,358.2h2.0v3.5h-2.0zM1547.0,451.9h2.0v3.5h-2.0zM1547.0,455.3h2.0v3.5h-2.0z" fill="#330201"/>
<path d="M1528.3,87.7h2.0v3.5h-2.0zM1528.3,94.6h2.0v3.5h-2.0zM1528.3,105.0h2.0v3.5h-2.0zM1528.3,115.4h2.0v3.5h-2.0zM1528.3,122.4h2.0v3.5h-2.0zM1528.3,129.3h2.0v3.5h-2.0zM1528.3,157.1h2.0v3.5h-2.0zM1528.3,160.5h2.0v3.5h-2.0zM1528.3,188.3h2.0v3.5h-2.0zM1528.3,212.6h2.0v3.5h-2.0zM1528.3,223.0h2.0v3.5h-2.0zM1528.3,243.8h2.0v3.5h-2.0zM1528.3,299.3h2.0v3.5h-2.0zM1528.3,323.5h2.0v3.5h-2.0zM1528.3,351.3h2.0v3.5h-2.0zM1528.3,354.8h2.0v3.5h-2.0zM1528.3,420.7h2.0v3.5h-2.0zM1555.4,122.4h2.2v3.5h-2.2zM1555.4,157.1h2.2v3.5h-2.2zM1555.4,170.9h2.2v3.5h-2.2zM1555.4,209.1h2.2v3.5h-2.2zM1555.4,212.6h2.2v3.5h-2.2zM1555.4,278.5h2.2v3.5h-2.2zM1555.4,292.3h2.2v3.5h-2.2zM1555.4,316.6h2.2v3.5h-2.2zM1555.4,337.4h2.2v3.5h-2.2zM1555.4,344.4h2.2v3.5h-2.2zM1555.4,351.3h2.2v3.5h-2.2zM1555.4,358.2h2.2v3.5h-2.2zM1555.4,389.4h2.2v3.5h-2.2zM1555.4,396.4h2.2v3.5h-2.2zM1555.4,431.1h2.2v3.5h-2.2zM1555.4,448.4h2.2v3.5h-2.2z" fill="#400202"/>
<path d="M1547.0,84.2h2.0v3.5h-2.0zM1547.0,94.6h2.0v3.5h-2.0zM1547.0,108.5h2.0v3.5h-2.0zM1547.0,139.7h2.0v3.5h-2.0zM1547.0,250.7h2.0v3.5h-2.0zM1547.0,257.6h2.0v3.5h-2.0zM1547.0,275.0h2.0v3.5h-2.0zM1547.0,285.4h2.0v3.5h-2.0zM1547.0,361.7h2.0v3.5h-2.0zM1547.0,365.2h2.0v3.5h-2.0zM1547.0,396.4h2.0v3.5h-2.0zM1547.0,424.1h2.0v3.5h-2.0z" fill="#4d0302"/>
<path d="M1334.9,91.2h2.2v3.5h-2.2zM1334.9,129.3h2.2v3.5h-2.2zM1334.9,139.7h2.2v3.5h-2.2zM1334.9,164.0h2.2v3.5h-2.2zM1334.9,170.9h2.2v3.5h-2.2zM1334.9,202.2h2.2v3.5h-2.2zM1334.9,233.4h2.2v3.5h-2.2zM1334.9,268.1h2.2v3.5h-2.2zM1334.9,278.5h2.2v3.5h-2.2zM1334.9,299.3h2.2v3.5h-2.2zM1334.9,313.1h2.2v3.5h-2.2zM1334.9,320.1h2.2v3.5h-2.2zM1334.9,330.5h2.2v3.5h-2.2zM1334.9,344.4h2.2v3.5h-2.2zM1334.9,361.7h2.2v3.5h-2.2zM1334.9,403.3h2.2v3.5h-2.2zM1334.9,434.5h2.2v3.5h-2.2z" fill="#590302"/>
<path d="M1528.3,98.1h2.0v3.5h-2.0zM1528.3,108.5h2.0v3.5h-2.0zM1528.3,112.0h2.0v3.5h-2.0zM1528.3,118.9h2.0v3.5h-2.0zM1528.3,170.9h2.0v3.5h-2.0zM1528.3,177.9h2.0v3.5h-2.0zM1528.3,184.8h2.0v3.5h-2.0zM1528.3,195.2h2.0v3.5h-2.0zM1528.3,202.2h2.0v3.5h-2.0zM1528.3,205.6h2.0v3.5h-2.0zM1528.3,229.9h2.0v3.5h-2.0zM1528.3,268.1h2.0v3.5h-2.0zM1528.3,295.8h2.0v3.5h-2.0zM1528.3,316.6h2.0v3.5h-2.0zM1528.3,320.1h2.0v3.5h-2.0zM1528.3,340.9h2.0v3.5h-2.0zM1528.3,347.8h2.0v3.5h-2.0zM1528.3,361.7h2.0v3.5h-2.0zM1528.3,403.3h2.0v3.5h-2.0zM1528.3,413.7h2.0v3.5h-2.0zM1528.3,431.1h2.0v3.5h-2.0zM1555.4,87.7h2.2v3.5h-2.2zM1555.4,101.6h2.2v3.5h-2.2zM1555.4,108.5h2.2v3.5h-2.2zM1555.4,112.0h2.2v3.5h-2.2zM1555.4,150.1h2.2v3.5h-2.2zM1555.4,153.6h2.2v3.5h-2.2zM1555.4,167.5h2.2v3.5h-2.2zM1555.4,188.3h2.2v3.5h-2.2zM1555.4,191.8h2.2v3.5h-2.2zM1555.4,243.8h2.2v3.5h-2.2zM1555.4,250.7h2.2v3.5h-2.2zM1555.4,285.4h2.2v3.5h-2.2zM1555.4,347.8h2.2v3.5h-2.2zM1555.4,382.5h2.2v3.5h-2.2zM1555.4,444.9h2.2v3.5h-2.2zM1555.4,451.9h2.2v3.5h-2.2zM1563.8,94.6h2.4v3.5h-2.4zM1563.8,108.5h2.4v3.5h-2.4zM1563.8,112.0h2.4v3.5h-2.4zM1563.8,118.9h2.4v3.5h-2.4zM1563.8,136.3h2.4v3.5h-2.4zM1563.8,150.1h2.4v3.5h-2.4zM1563.8,157.1h2.4v3.5h-2.4zM1563.8,170.9h2.4v3.5h-2.4zM1563.8,174.4h2.4v3.5h-2.4zM1563.8,195.2h2.4v3.5h-2.4zM1563.8,198.7h2.4v3.5h-2.4zM1563.8,202.2h2.4v3.5h-2.4zM1563.8,212.6h2.4v3.5h-2.4zM1563.8,233.4h2.4v3.5h-2.4zM1563.8,236.8h2.4v3.5h-2.4zM1563.8,247.2h2.4v3.5h-2.4zM1563.8,302.7h2.4v3.5h-2.4zM1563.8,309.7h2.4v3.5h-2.4zM1563.8,313.1h2.4v3.5h-2.4zM1563.8,323.5h2.4v3.5h-2.4zM1563.8,333.9h2.4v3.5h-2.4zM1563.8,347.8h2.4v3.5h-2.4zM1563.8,354.8h2.4v3.5h-2.4zM1563.8,399.8h2.4v3.5h-2.4zM1563.8,417.2h2.4v3.5h-2.4zM1563.8,427.6h2.4v3.5h-2.4zM1563.8,434.5h2.4v3.5h-2.4zM1563.8,441.5h2.4v3.5h-2.4zM1571.9,77.3h3.0v3.5h-3.0zM1571.9,94.6h3.0v3.5h-3.0zM1571.9,101.6h3.0v3.5h-3.0zM1571.9,115.4h3.0v3.5h-3.0zM1571.9,164.0h3.0v3.5h-3.0zM1571.9,181.3h3.0v3.5h-3.0zM1571.9,191.8h3.0v3.5h-3.0zM1571.9,202.2h3.0v3.5h-3.0zM1571.9,209.1h3.0v3.5h-3.0zM1571.9,223.0h3.0v3.5h-3.0zM1571.9,247.2h3.0v3.5h-3.0zM1571.9,268.1h3.0v3.5h-3.0zM1571.9,271.5h3.0v3.5h-3.0zM1571.9,299.3h3.0v3.5h-3.0zM1571.9,302.7h3.0v3.5h-3.0zM1571.9,320.1h3.0v3.5h-3.0zM1571.9,327.0h3.0v3.5h-3.0zM1571.9,372.1h3.0v3.5h-3.0zM1571.9,441.5h3.0v3.5h-3.0z" fill="#660403"/>
<path d="M1334.9,80.8h2.2v3.5h-2.2zM1334.9,94.6h2.2v3.5h-2.2zM1334.9,112.0h2.2v3.5h-2.2zM1334.9,122.4h2.2v3.5h-2.2zM1334.9,157.1h2.2v3.5h-2.2zM1334.9,181.3h2.2v3.5h-2.2zM1334.9,191.8h2.2v3.5h-2.2zM1334.9,205.6h2.2v3.5h-2.2zM1334.9,209.1h2.2v3.5h-2.2zM1334.9,216.0h2.2v3.5h-2.2zM1334.9,243.8h2.2v3.5h-2.2zM1334.9,271.5h2.2v3.5h-2.2zM1334.9,285.4h2.2v3.5h-2.2zM1334.9,309.7h2.2v3.5h-2.2zM1334.9,372.1h2.2v3.5h-2.2zM1334.9,386.0h2.2v3.5h-2.2zM1334.9,392.9h2.2v3.5h-2.2zM1334.9,399.8h2.2v3.5h-2.2zM1334.9,444.9h2.2v3.5h-2.2zM1355.1,77.3h2.4v3.5h-2.4zM1355.1,80.8h2.4v3.5h-2.4zM1355.1,98.1h2.4v3.5h-2.4zM1355.1,129.3h2.4v3.5h-2.4zM1355.1,146.7h2.4v3.5h-2.4zM1355.1,150.1h2.4v3.5h-2.4zM1355.1,188.3h2.4v3.5h-2.4zM1355.1,202.2h2.4v3.5h-2.4zM1355.1,212.6h2.4v3.5h-2.4zM1355.1,223.0h2.4v3.5h-2.4zM1355.1,243.8h2.4v3.5h-2.4zM1355.1,250.7h2.4v3.5h-2.4zM1355.1,261.1h2.4v3.5h-2.4zM1355.1,275.0h2.4v3.5h-2.4zM1355.1,281.9h2.4v3.5h-2.4zM1355.1,292.3h2.4v3.5h-2.4zM1355.1,299.3h2.4v3.5h-2.4zM1355.1,306.2h2.4v3.5h-2.4zM1355.1,309.7h2.4v3.5h-2.4zM1355.1,327.0h2.4v3.5h-2.4zM1355.1,330.5h2.4v3.5h-2.4zM1355.1,354.8h2.4v3.5h-2.4zM1355.1,368.6h2.4v3.5h-2.4zM1355.1,372.1h2.4v3.5h-2.4zM1355.1,375.6h2.4v3.5h-2.4zM1355.1,379.0h2.4v3.5h-2.4zM1355.1,389.4h2.4v3.5h-2.4zM1355.1,396.4h2.4v3.5h-2.4zM1355.1,406.8h2.4v3.5h-2.4zM1355.1,410.2h2.4v3.5h-2.4zM1355.1,427.6h2.4v3.5h-2.4zM1355.1,438.0h2.4v3.5h-2.4zM1355.1,448.4h2.4v3.5h-2.4zM1355.1,455.3h2.4v3.5h-2.4zM1547.0,136.3h2.0v3.5h-2.0zM1547.0,229.9h2.0v3.5h-2.0zM1547.0,316.6h2.0v3.5h-2.0zM1547.0,327.0h2.0v3.5h-2.0zM1547.0,368.6h2.0v3.5h-2.0zM1547.0,372.1h2.0v3.5h-2.0zM1547.0,375.6h2.0v3.5h-2.0zM1547.0,406.8h2.0v3.5h-2.0z" fill="#800504"/>
<path d="M1518.9,91.2h3.8v3.5h-3.8zM1518.9,101.6h3.8v3.5h-3.8zM1518.9,118.9h3.8v3.5h-3.8zM1518.9,136.3h3.8v3.5h-3.8zM1518.9,177.9h3.8v3.5h-3.8zM1518.9,181.3h3.8v3.5h-3.8zM1518.9,188.3h3.8v3.5h-3.8zM1518.9,191.8h3.8v3.5h-3.8zM1518.9,205.6h3.8v3.5h-3.8zM1518.9,254.2h3.8v3.5h-3.8zM1518.9,313.1h3.8v3.5h-3.8zM1518.9,365.2h3.8v3.5h-3.8zM1518.9,372.1h3.8v3.5h-3.8zM1518.9,451.9h3.8v3.5h-3.8zM1528.3,77.3h2.0v3.5h-2.0zM1528.3,84.2h2.0v3.5h-2.0zM1528.3,174.4h2.0v3.5h-2.0zM1528.3,198.7h2.0v3.5h-2.0zM1528.3,216.0h2.0v3.5h-2.0zM1528.3,226.4h2.0v3.5h-2.0zM1528.3,236.8h2.0v3.5h-2.0zM1528.3,257.6h2.0v3.5h-2.0zM1528.3,271.5h2.0v3.5h-2.0zM1528.3,288.9h2.0v3.5h-2.0zM1528.3,309.7h2.0v3.5h-2.0zM1528.3,327.0h2.0v3.5h-2.0zM1528.3,368.6h2.0v3.5h-2.0zM1528.3,396.4h2.0v3.5h-2.0zM1528.3,399.8h2.0v3.5h-2.0zM1528.3,406.8h2.0v3.5h-2.0zM1528.3,424.1h2.0v3.5h-2.0zM1528.3,434.5h2.0v3.5h-2.0zM1528.3,448.4h2.0v3.5h-2.0zM1563.8,80.8h2.4v3.5h-2.4zM1563.8,132.8h2.4v3.5h-2.4zM1563.8,139.7h2.4v3.5h-2.4zM1563.8,223.0h2.4v3.5h-2.4zM1563.8,268.1h2.4v3.5h-2.4zM1563.8,271.5h2.4v3.5h-2.4zM1563.8,281.9h2.4v3.5h-2.4zM1563.8,306.2h2.4v3.5h-2.4zM1563.8,316.6h2.4v3.5h-2.4zM1563.8,358.2h2.4v3.5h-2.4zM1563.8,365.2h2.4v3.5h-2.4zM1563.8,375.6h2.4v3.5h-2.4zM1563.8,386.0h2.4v3.5h-2.4zM1563.8,389.4h2.4v3.5h-2.4zM1563.8,420.7h2.4v3.5h-2.4z" fill="#990604"/>
<path d="M1334.9,118.9h2.2v3.5h-2.2zM1334.9,125.9h2.2v3.5h-2.2zM1334.9,143.2h2.2v3.5h-2.2zM1334.9,174.4h2.2v3.5h-2.2zM1334.9,188.3h2.2v3.5h-2.2zM1334.9,212.6h2.2v3.5h-2.2zM1334.9,223.0h2.2v3.5h-2.2zM1334.9,226.4h2.2v3.5h-2.2zM1334.9,236.8h2.2v3.5h-2.2zM1334.9,240.3h2.2v3.5h-2.2zM1334.9,261.1h2.2v3.5h-2.2zM1334.9,281.9h2.2v3.5h-2.2zM1334.9,327.0h2.2v3.5h-2.2zM1334.9,333.9h2.2v3.5h-2.2zM1334.9,337.4h2.2v3.5h-2.2zM1334.9,340.9h2.2v3.5h-2.2zM1334.9,396.4h2.2v3.5h-2.2zM1334.9,406.8h2.2v3.5h-2.2zM1334.9,410.2h2.2v3.5h-2.2zM1334.9,431.1h2.2v3.5h-2.2zM1334.9,441.5h2.2v3.5h-2.2zM1334.9,451.9h2.2v3.5h-2.2zM1355.1,115.4h2.4v3.5h-2.4zM1355.1,125.9h2.4v3.5h-2.4zM1355.1,132.8h2.4v3.5h-2.4zM1355.1,143.2h2.4v3.5h-2.4zM1355.1,153.6h2.4v3.5h-2.4zM1355.1,157.1h2.4v3.5h-2.4zM1355.1,174.4h2.4v3.5h-2.4zM1355.1,181.3h2.4v3.5h-2.4zM1355.1,184.8h2.4v3.5h-2.4zM1355.1,195.2h2.4v3.5h-2.4zM1355.1,205.6h2.4v3.5h-2.4zM1355.1,226.4h2.4v3.5h-2.4zM1355.1,233.4h2.4v3.5h-2.4zM1355.1,257.6h2.4v3.5h-2.4zM1355.1,268.1h2.4v3.5h-2.4zM1355.1,285.4h2.4v3.5h-2.4zM1355.1,333.9h2.4v3.5h-2.4zM1355.1,347.8h2.4v3.5h-2.4zM1355.1,399.8h2.4v3.5h-2.4zM1355.1,420.7h2.4v3.5h-2.4zM1355.1,424.1h2.4v3.5h-2.4zM1355.1,441.5h2.4v3.5h-2.4zM1355.1,444.9h2.4v3.5h-2.4zM1355.1,451.9h2.4v3.5h-2.4zM1555.4,77.3h2.2v3.5h-2.2zM1555.4,94.6h2.2v3.5h-2.2zM1555.4,136.3h2.2v3.5h-2.2zM1555.4,143.2h2.2v3.5h-2.2zM1555.4,160.5h2.2v3.5h-2.2zM1555.4,164.0h2.2v3.5h-2.2zM1555.4,184.8h2.2v3.5h-2.2zM1555.4,219.5h2.2v3.5h-2.2zM1555.4,240.3h2.2v3.5h-2.2zM1555.4,254.2h2.2v3.5h-2.2zM1555.4,257.6h2.2v3.5h-2.2zM1555.4,299.3h2.2v3.5h-2.2zM1555.4,320.1h2.2v3.5h-2.2zM1555.4,323.5h2.2v3.5h-2.2zM1555.4,330.5h2.2v3.5h-2.2zM1555.4,340.9h2.2v3.5h-2.2zM1555.4,354.8h2.2v3.5h-2.2zM1555.4,368.6h2.2v3.5h-2.2zM1555.4,417.2h2.2v3.5h-2.2zM1555.4,434.5h2.2v3.5h-2.2zM1571.9,84.2h3.0v3.5h-3.0zM1571.9,122.4h3.0v3.5h-3.0zM1571.9,150.1h3.0v3.5h-3.0zM1571.9,153.6h3.0v3.5h-3.0zM1571.9,157.1h3.0v3.5h-3.0zM1571.9,195.2h3.0v3.5h-3.0zM1571.9,226.4h3.0v3.5h-3.0zM1571.9,264.6h3.0v3.5h-3.0zM1571.9,288.9h3.0v3.5h-3.0zM1571.9,379.0h3.0v3.5h-3.0zM1571.9,382.5h3.0v3.5h-3.0zM1571.9,399.8h3.0v3.5h-3.0zM1571.9,431.1h3.0v3.5h-3.0z" fill="#b30705"/>
<path d="M1518.9,80.8h3.8v3.5h-3.8zM1518.9,84.2h3.8v3.5h-3.8zM1518.9,87.7h3.8v3.5h-3.8zM1518.9,94.6h3.8v3.5h-3.8zM1518.9,98.1h3.8v3.5h-3.8zM1518.9,112.0h3.8v3.5h-3.8zM1518.9,122.4h3.8v3.5h-3.8zM1518.9,143.2h3.8v3.5h-3.8zM1518.9,153.6h3.8v3.5h-3.8zM1518.9,170.9h3.8v3.5h-3.8zM1518.9,184.8h3.8v3.5h-3.8zM1518.9,219.5h3.8v3.5h-3.8zM1518.9,226.4h3.8v3.5h-3.8zM1518.9,240.3h3.8v3.5h-3.8zM1518.9,257.6h3.8v3.5h-3.8zM1518.9,261.1h3.8v3.5h-3.8zM1518.9,264.6h3.8v3.5h-3.8zM1518.9,299.3h3.8v3.5h-3.8zM1518.9,316.6h3.8v3.5h-3.8zM1518.9,323.5h3.8v3.5h-3.8zM1518.9,354.8h3.8v3.5h-3.8zM1518.9,368.6h3.8v3.5h-3.8zM1518.9,396.4h3.8v3.5h-3.8zM1518.9,403.3h3.8v3.5h-3.8zM1518.9,438.0h3.8v3.5h-3.8z" fill="#d90806"/>
<path d="M1355.1,91.2h2.4v3.5h-2.4zM1355.1,167.5h2.4v3.5h-2.4zM1355.1,191.8h2.4v3.5h-2.4zM1355.1,198.7h2.4v3.5h-2.4zM1355.1,216.0h2.4v3.5h-2.4zM1355.1,219.5h2.4v3.5h-2.4zM1355.1,254.2h2.4v3.5h-2.4zM1355.1,278.5h2.4v3.5h-2.4zM1355.1,295.8h2.4v3.5h-2.4zM1355.1,320.1h2.4v3.5h-2.4zM1355.1,340.9h2.4v3.5h-2.4zM1355.1,344.4h2.4v3.5h-2.4zM1355.1,351.3h2.4v3.5h-2.4zM1355.1,386.0h2.4v3.5h-2.4zM1355.1,392.9h2.4v3.5h-2.4zM1355.1,434.5h2.4v3.5h-2.4zM1509.3,84.2h4.0v3.5h-4.0zM1509.3,87.7h4.0v3.5h-4.0zM1509.3,105.0h4.0v3.5h-4.0zM1509.3,108.5h4.0v3.5h-4.0zM1509.3,112.0h4.0v3.5h-4.0zM1509.3,115.4h4.0v3.5h-4.0zM1509.3,118.9h4.0v3.5h-4.0zM1509.3,125.9h4.0v3.5h-4.0zM1509.3,129.3h4.0v3.5h-4.0zM1509.3,143.2h4.0v3.5h-4.0zM1509.3,153.6h4.0v3.5h-4.0zM1509.3,164.0h4.0v3.5h-4.0zM1509.3,177.9h4.0v3.5h-4.0zM1509.3,188.3h4.0v3.5h-4.0zM1509.3,198.7h4.0v3.5h-4.0zM1509.3,202.2h4.0v3.5h-4.0zM1509.3,216.0h4.0v3.5h-4.0zM1509.3,233.4h4.0v3.5h-4.0zM1509.3,236.8h4.0v3.5h-4.0zM1509.3,268.1h4.0v3.5h-4.0zM1509.3,271.5h4.0v3.5h-4.0zM1509.3,413.7h4.0v3.5h-4.0zM1509.3,434.5h4.0v3.5h-4.0zM1509.3,448.4h4.0v3.5h-4.0zM1509.3,455.3h4.0v3.5h-4.0zM1563.8,77.3h2.4v3.5h-2.4zM1563.8,84.2h2.4v3.5h-2.4zM1563.8,98.1h2.4v3.5h-2.4zM1563.8,115.4h2.4v3.5h-2.4zM1563.8,125.9h2.4v3.5h-2.4zM1563.8,188.3h2.4v3.5h-2.4zM1563.8,205.6h2.4v3.5h-2.4zM1563.8,216.0h2.4v3.5h-2.4zM1563.8,229.9h2.4v3.5h-2.4zM1563.8,240.3h2.4v3.5h-2.4zM1563.8,285.4h2.4v3.5h-2.4zM1563.8,295.8h2.4v3.5h-2.4zM1563.8,340.9h2.4v3.5h-2.4zM1563.8,344.4h2.4v3.5h-2.4zM1563.8,361.7h2.4v3.5h-2.4zM1563.8,368.6h2.4v3.5h-2.4zM1563.8,406.8h2.4v3.5h-2.4zM1563.8,431.1h2.4v3.5h-2.4zM1563.8,448.4h2.4v3.5h-2.4zM1563.8,455.3h2.4v3.5h-2.4z" fill="#e60907"/>
<path d="M1509.3,77.3h4.0v3.5h-4.0zM1509.3,80.8h4.0v3.5h-4.0zM1509.3,91.2h4.0v3.5h-4.0zM1509.3,94.6h4.0v3.5h-4.0zM1509.3,98.1h4.0v3.5h-4.0zM1509.3,101.6h4.0v3.5h-4.0zM1509.3,122.4h4.0v3.5h-4.0zM1509.3,132.8h4.0v3.5h-4.0zM1509.3,136.3h4.0v3.5h-4.0zM1509.3,139.7h4.0v3.5h-4.0zM1509.3,146.7h4.0v3.5h-4.0zM1509.3,150.1h4.0v3.5h-4.0zM1509.3,157.1h4.0v3.5h-4.0zM1509.3,160.5h4.0v3.5h-4.0zM1509.3,167.5h4.0v3.5h-4.0zM1509.3,170.9h4.0v3.5h-4.0zM1509.3,174.4h4.0v3.5h-4.0zM1509.3,181.3h4.0v3.5h-4.0zM1509.3,184.8h4.0v3.5h-4.0zM1509.3,191.8h4.0v3.5h-4.0zM1509.3,195.2h4.0v3.5h-4.0zM1509.3,205.6h4.0v3.5h-4.0zM1509.3,209.1h4.0v3.5h-4.0zM1509.3,212.6h4.0v3.5h-4.0zM1509.3,219.5h4.0v3.5h-4.0zM1509.3,223.0h4.0v3.5h-4.0zM1509.3,226.4h4.0v3.5h-4.0zM1509.3,229.9h4.0v3.5h-4.0zM1509.3,240.3h4.0v3.5h-4.0zM1509.3,243.8h4.0v3.5h-4.0zM1509.3,247.2h4.0v3.5h-4.0zM1509.3,250.7h4.0v3.5h-4.0zM1509.3,254.2h4.0v3.5h-4.0zM1509.3,257.6h4.0v3.5h-4.0zM1509.3,261.1h4.0v3.5h-4.0zM1509.3,264.6h4.0v3.5h-4.0zM1509.3,275.0h4.0v3.5h-4.0zM1509.3,278.5h4.0v3.5h-4.0zM1509.3,281.9h4.0v3.5h-4.0zM1509.3,285.4h4.0v3.5h-4.0zM1509.3,288.9h4.0v3.5h-4.0zM1509.3,292.3h4.0v3.5h-4.0zM1509.3,295.8h4.0v3.5h-4.0zM1509.3,299.3h4.0v3.5h-4.0zM1509.3,302.7h4.0v3.5h-4.0zM1509.3,306.2h4.0v3.5h-4.0zM1509.3,309.7h4.0v3.5h-4.0zM1509.3,396.4h4.0v3.5h-4.0zM1509.3,403.3h4.0v3.5h-4.0zM1509.3,406.8h4.0v3.5h-4.0zM1509.3,410.2h4.0v3.5h-4.0zM1509.3,420.7h4.0v3.5h-4.0zM1509.3,424.1h4.0v3.5h-4.0zM1509.3,427.6h4.0v3.5h-4.0zM1509.3,431.1h4.0v3.5h-4.0zM1509.3,438.0h4.0v3.5h-4.0zM1509.3,441.5h4.0v3.5h-4.0zM1509.3,444.9h4.0v3.5h-4.0zM1509.3,451.9h4.0v3.5h-4.0zM1518.9,77.3h3.8v3.5h-3.8zM1518.9,105.0h3.8v3.5h-3.8zM1518.9,108.5h3.8v3.5h-3.8zM1518.9,115.4h3.8v3.5h-3.8zM1518.9,125.9h3.8v3.5h-3.8zM1518.9,129.3h3.8v3.5h-3.8zM1518.9,132.8h3.8v3.5h-3.8zM1518.9,139.7h3.8v3.5h-3.8zM1518.9,146.7h3.8v3.5h-3.8zM1518.9,150.1h3.8v3.5h-3.8zM1518.9,157.1h3.8v3.5h-3.8zM1518.9,160.5h3.8v3.5h-3.8zM1518.9,164.0h3.8v3.5h-3.8zM1518.9,167.5h3.8v3.5h-3.8zM1518.9,174.4h3.8v3.5h-3.8zM1518.9,195.2h3.8v3.5h-3.8zM1518.9,202.2h3.8v3.5h-3.8zM1518.9,223.0h3.8v3.5h-3.8zM1518.9,229.9h3.8v3.5h-3.8zM1518.9,233.4h3.8v3.5h-3.8zM1518.9,247.2h3.8v3.5h-3.8zM1518.9,250.7h3.8v3.5h-3.8zM1518.9,268.1h3.8v3.5h-3.8zM1518.9,271.5h3.8v3.5h-3.8zM1518.9,275.0h3.8v3.5h-3.8zM1518.9,278.5h3.8v3.5h-3.8zM1518.9,281.9h3.8v3.5h-3.8zM1518.9,285.4h3.8v3.5h-3.8zM1518.9,288.9h3.8v3.5h-3.8zM1518.9,292.3h3.8v3.5h-3.8zM1518.9,295.8h3.8v3.5h-3.8zM1518.9,309.7h3.8v3.5h-3.8zM1518.9,320.1h3.8v3.5h-3.8zM1518.9,337.4h3.8v3.5h-3.8zM1518.9,347.8h3.8v3.5h-3.8zM1518.9,361.7h3.8v3.5h-3.8zM1518.9,375.6h3.8v3.5h-3.8zM1518.9,406.8h3.8v3.5h-3.8zM1518.9,410.2h3.8v3.5h-3.8zM1518.9,413.7h3.8v3.5h-3.8zM1518.9,417.2h3.8v3.5h-3.8zM1518.9,424.1h3.8v3.5h-3.8zM1518.9,431.1h3.8v3.5h-3.8zM1518.9,434.5h3.8v3.5h-3.8zM1518.9,441.5h3.8v3.5h-3.8zM1571.9,98.1h3.0v3.5h-3.0zM1571.9,108.5h3.0v3.5h-3.0zM1571.9,125.9h3.0v3.5h-3.0zM1571.9,167.5h3.0v3.5h-3.0zM1571.9,174.4h3.0v3.5h-3.0zM1571.9,219.5h3.0v3.5h-3.0zM1571.9,333.9h3.0v3.5h-3.0zM1571.9,344.4h3.0v3.5h-3.0zM1571.9,351.3h3.0v3.5h-3.0zM1571.9,354.8h3.0v3.5h-3.0zM1571.9,358.2h3.0v3.5h-3.0zM1571.9,365.2h3.0v3.5h-3.0zM1571.9,375.6h3.0v3.5h-3.0zM1571.9,406.8h3.0v3.5h-3.0zM1571.9,413.7h3.0v3.5h-3.0zM1571.9,427.6h3.0v3.5h-3.0zM1571.9,448.4h3.0v3.5h-3.0zM1571.9,455.3h3.0v3.5h-3.0z" fill="#ff0a08"/>
</g>
<text transform="translate(13.06,548.43) scale(1.0022,0.9396)" font-family="'Liberation Sans',sans-serif" font-size="40" font-weight="bold" fill="#000" stroke="#000" stroke-width="2.47" stroke-linejoin="round">b</text>
<rect x="106.2" y="540.6" width="605.5" height="605.6" fill="none" stroke="#333" stroke-width="1.6"/>
<rect x="98.0" y="648.25" width="8.2" height="1.5" fill="#333"/>
<text transform="translate(52.88,656.60) scale(1.0500,1.0000)" font-family="'Liberation Sans',sans-serif" font-size="24.0" fill="#000" >0.3</text>
<rect x="98.0" y="761.55" width="8.2" height="1.5" fill="#333"/>
<text transform="translate(53.04,769.90) scale(1.0500,1.0000)" font-family="'Liberation Sans',sans-serif" font-size="24.0" fill="#000" >0.2</text>
<rect x="98.0" y="874.85" width="8.2" height="1.5" fill="#333"/>
<text transform="translate(57.04,883.20) scale(0.9245,1.0000)" font-family="'Liberation Sans',sans-serif" font-size="24.0" fill="#000" >0.1</text>
<rect x="98.0" y="988.15" width="8.2" height="1.5" fill="#333"/>
<text transform="translate(73.77,996.50) scale(1.0500,1.0000)" font-family="'Liberation Sans',sans-serif" font-size="24.0" fill="#000" >0</text>
<rect x="98.0" y="1101.45" width="8.2" height="1.5" fill="#333"/>
<text transform="translate(46.79,1109.80) scale(0.9562,1.0000)" font-family="'Liberation Sans',sans-serif" font-size="24.0" fill="#000" ><tspan textLength="8.81" lengthAdjust="spacingAndGlyphs" stroke="#000" stroke-width="0.4">–</tspan><tspan dx="0.84">0.1</tspan></text>
<rect x="131.15" y="1146.2" width="1.7" height="7.8" fill="#333"/>
<text transform="translate(105.24,1184.10) scale(1.1100,1.0000)" font-family="'Liberation Sans',sans-serif" font-size="24.0" fill="#000" ><tspan textLength="8.81" lengthAdjust="spacingAndGlyphs" stroke="#000" stroke-width="0.4">–</tspan><tspan dx="0.84">500</tspan></text>
<rect x="242.05" y="1146.2" width="1.7" height="7.8" fill="#333"/>
<text transform="translate(216.14,1184.10) scale(1.1100,1.0000)" font-family="'Liberation Sans',sans-serif" font-size="24.0" fill="#000" ><tspan textLength="8.81" lengthAdjust="spacingAndGlyphs" stroke="#000" stroke-width="0.4">–</tspan><tspan dx="0.84">400</tspan></text>
<rect x="352.95" y="1146.2" width="1.7" height="7.8" fill="#333"/>
<text transform="translate(327.04,1184.10) scale(1.1100,1.0000)" font-family="'Liberation Sans',sans-serif" font-size="24.0" fill="#000" ><tspan textLength="8.81" lengthAdjust="spacingAndGlyphs" stroke="#000" stroke-width="0.4">–</tspan><tspan dx="0.84">300</tspan></text>
<rect x="463.85" y="1146.2" width="1.7" height="7.8" fill="#333"/>
<text transform="translate(437.94,1184.10) scale(1.1100,1.0000)" font-family="'Liberation Sans',sans-serif" font-size="24.0" fill="#000" ><tspan textLength="8.81" lengthAdjust="spacingAndGlyphs" stroke="#000" stroke-width="0.4">–</tspan><tspan dx="0.84">200</tspan></text>
<rect x="574.75" y="1146.2" width="1.7" height="7.8" fill="#333"/>
<text transform="translate(550.91,1184.10) scale(1.0249,1.0000)" font-family="'Liberation Sans',sans-serif" font-size="24.0" fill="#000" ><tspan textLength="8.81" lengthAdjust="spacingAndGlyphs" stroke="#000" stroke-width="0.4">–</tspan><tspan dx="0.84">100</tspan></text>
<rect x="684.54" y="1146.2" width="1.7" height="7.8" fill="#333"/>
<text transform="translate(675.65,1184.10) scale(0.9200,1.0000)" font-family="'Liberation Sans',sans-serif" font-size="24.0" fill="#000" ><tspan textLength="8.81" lengthAdjust="spacingAndGlyphs" stroke="#000" stroke-width="0.4">–</tspan><tspan dx="0.84">1</tspan></text>
<text transform="translate(30.30,994.56) rotate(-90) scale(1.0528,1.0000)" font-family="'Liberation Sans',sans-serif" font-size="27.6" fill="#000" stroke="#fff" stroke-width="0.095" paint-order="fill stroke" >Attention contrast score</text>
<line x1="115.8" y1="988.9" x2="700.8" y2="988.9" stroke="#000" stroke-width="2.8" stroke-dasharray="13.6 12.4"/>
<rect x="153" y="587.4" width="24" height="4.6" fill="#5C9A6E"/>
<rect x="153" y="631.8" width="24" height="4.6" fill="#EBC443"/>
<text transform="translate(189.35,598.70) scale(0.9935,1.0000)" font-family="'Liberation Sans',sans-serif" font-size="27.6" fill="#000" font-style="italic" stroke="#fff" stroke-width="0.101" paint-order="fill stroke" >A. thaliana</text>
<text transform="translate(186.50,643.30) scale(1.0050,1.0000)" font-family="'Liberation Sans',sans-serif" font-size="27.6" fill="#000" font-style="italic" stroke="#fff" stroke-width="0.099" paint-order="fill stroke" >O. sativa</text>
<path d="M132.0,1055.1 L133.1,1054.3 L134.2,1060.1 L135.3,1057.8 L136.4,1066.7 L137.5,1062.8 L138.7,1059.8 L139.8,1065.8 L140.9,1061.6 L142.0,1070.8 L143.1,1071.4 L144.2,1074.3 L145.3,1073.4 L146.4,1072.6 L147.5,1079.5 L148.6,1084.1 L149.7,1086.3 L150.9,1085.8 L152.0,1075.6 L153.1,1079.5 L154.2,1081.2 L155.3,1083.7 L156.4,1086.6 L157.5,1086.0 L158.6,1082.2 L159.7,1083.4 L160.8,1085.0 L161.9,1085.0 L163.1,1083.9 L164.2,1088.9 L165.3,1087.0 L166.4,1085.9 L167.5,1086.6 L168.6,1088.9 L169.7,1091.4 L170.8,1095.2 L171.9,1090.2 L173.0,1088.8 L174.1,1089.0 L175.3,1090.5 L176.4,1088.8 L177.5,1090.2 L178.6,1091.4 L179.7,1092.6 L180.8,1083.1 L181.9,1088.1 L183.0,1092.3 L184.1,1092.0 L185.2,1088.8 L186.3,1089.4 L187.4,1093.1 L188.6,1091.1 L189.7,1098.0 L190.8,1093.3 L191.9,1090.6 L193.0,1089.9 L194.1,1095.6 L195.2,1086.4 L196.3,1089.3 L197.4,1090.4 L198.5,1083.1 L199.6,1084.7 L200.8,1086.1 L201.9,1092.0 L203.0,1086.4 L204.1,1086.6 L205.2,1094.0 L206.3,1093.2 L207.4,1089.3 L208.5,1086.1 L209.6,1087.6 L210.7,1085.1 L211.8,1088.3 L213.0,1088.6 L214.1,1085.0 L215.2,1088.5 L216.3,1085.4 L217.4,1079.2 L218.5,1088.0 L219.6,1080.4 L220.7,1086.6 L221.8,1084.6 L222.9,1082.7 L224.0,1086.9 L225.2,1085.8 L226.3,1084.4 L227.4,1082.2 L228.5,1080.0 L229.6,1082.6 L230.7,1081.4 L231.8,1083.0 L232.9,1085.2 L234.0,1077.4 L235.1,1073.3 L236.2,1077.7 L237.4,1079.6 L238.5,1081.6 L239.6,1074.9 L240.7,1072.6 L241.8,1076.7 L242.9,1079.2 L244.0,1083.5 L245.1,1078.2 L246.2,1076.0 L247.3,1075.1 L248.4,1073.0 L249.6,1077.1 L250.7,1075.8 L251.8,1073.0 L252.9,1074.6 L254.0,1071.0 L255.1,1073.7 L256.2,1068.9 L257.3,1070.4 L258.4,1074.4 L259.5,1070.0 L260.6,1072.2 L261.8,1068.9 L262.9,1073.3 L264.0,1069.9 L265.1,1067.6 L266.2,1066.9 L267.3,1067.1 L268.4,1069.8 L269.5,1066.7 L270.6,1066.2 L271.7,1066.6 L272.8,1066.2 L274.0,1064.3 L275.1,1068.0 L276.2,1069.9 L277.3,1067.2 L278.4,1065.3 L279.5,1065.4 L280.6,1061.0 L281.7,1063.1 L282.8,1061.1 L283.9,1064.8 L285.0,1067.3 L286.2,1065.4 L287.3,1063.2 L288.4,1058.4 L289.5,1055.4 L290.6,1064.4 L291.7,1061.7 L292.8,1059.1 L293.9,1055.6 L295.0,1058.4 L296.1,1061.3 L297.2,1062.6 L298.4,1054.6 L299.5,1050.4 L300.6,1058.5 L301.7,1056.8 L302.8,1057.4 L303.9,1052.7 L305.0,1059.7 L306.1,1057.7 L307.2,1056.4 L308.3,1055.6 L309.4,1054.7 L310.5,1053.8 L311.7,1058.6 L312.8,1055.5 L313.9,1050.8 L315.0,1050.5 L316.1,1048.9 L317.2,1050.1 L318.3,1055.5 L319.4,1052.3 L320.5,1050.5 L321.6,1050.1 L322.7,1044.2 L323.9,1044.8 L325.0,1048.1 L326.1,1050.8 L327.2,1049.1 L328.3,1044.3 L329.4,1046.8 L330.5,1049.5 L331.6,1046.4 L332.7,1046.7 L333.8,1038.2 L334.9,1036.9 L336.1,1035.2 L337.2,1037.2 L338.3,1037.6 L339.4,1033.6 L340.5,1034.4 L341.6,1034.5 L342.7,1032.3 L343.8,1035.3 L344.9,1034.0 L346.0,1028.7 L347.1,1027.0 L348.3,1028.3 L349.4,1032.6 L350.5,1031.5 L351.6,1032.1 L352.7,1026.6 L353.8,1031.2 L354.9,1027.4 L356.0,1025.2 L357.1,1027.5 L358.2,1023.3 L359.3,1022.4 L360.5,1017.0 L361.6,1021.6 L362.7,1018.6 L363.8,1020.3 L364.9,1020.5 L366.0,1019.7 L367.1,1021.0 L368.2,1018.3 L369.3,1023.4 L370.4,1017.5 L371.5,1021.5 L372.7,1022.6 L373.8,1017.8 L374.9,1015.5 L376.0,1018.5 L377.1,1017.3 L378.2,1013.2 L379.3,1012.4 L380.4,1009.3 L381.5,1002.4 L382.6,1011.0 L383.7,1010.7 L384.9,1013.7 L386.0,1011.7 L387.1,1014.1 L388.2,1006.8 L389.3,1009.3 L390.4,1005.8 L391.5,1006.7 L392.6,1003.8 L393.7,1007.8 L394.8,1007.6 L395.9,1008.8 L397.1,1000.9 L398.2,998.7 L399.3,1004.7 L400.4,1002.1 L401.5,998.3 L402.6,1002.4 L403.7,1001.2 L404.8,1000.3 L405.9,999.6 L407.0,997.0 L408.1,1001.4 L409.2,994.3 L410.4,999.6 L411.5,1000.8 L412.6,1000.2 L413.7,993.4 L414.8,997.5 L415.9,993.7 L417.0,998.2 L418.1,993.0 L419.2,991.0 L420.3,991.5 L421.4,987.9 L422.6,993.9 L423.7,988.1 L424.8,984.2" fill="none" stroke="#BEBEBE" stroke-width="7.5" stroke-linejoin="round" stroke-linecap="round"/>
<path d="M132.0,1092.3 L133.1,1104.4 L134.2,1115.4 L135.3,1122.1 L136.4,1114.6 L137.5,1110.1 L138.7,1106.9 L139.8,1105.9 L140.9,1109.1 L142.0,1106.9 L143.1,1107.0 L144.2,1108.6 L145.3,1103.4 L146.4,1105.0 L147.5,1108.6 L148.6,1105.9 L149.7,1109.3 L150.9,1110.4 L152.0,1108.8 L153.1,1104.0 L154.2,1104.9 L155.3,1102.8 L156.4,1101.3 L157.5,1108.7 L158.6,1105.9 L159.7,1105.0 L160.8,1106.4 L161.9,1103.7 L163.1,1105.6 L164.2,1103.9 L165.3,1110.6 L166.4,1114.7 L167.5,1101.7 L168.6,1102.0 L169.7,1098.6 L170.8,1108.7 L171.9,1106.5 L173.0,1113.4 L174.1,1110.5 L175.3,1105.3 L176.4,1104.8 L177.5,1107.2 L178.6,1102.0 L179.7,1102.2 L180.8,1106.0 L181.9,1111.2 L183.0,1106.5 L184.1,1105.2 L185.2,1105.3 L186.3,1107.1 L187.4,1107.1 L188.6,1109.7 L189.7,1108.1 L190.8,1105.3 L191.9,1107.0 L193.0,1110.5 L194.1,1102.7 L195.2,1104.0 L196.3,1104.5 L197.4,1102.5 L198.5,1106.4 L199.6,1101.9 L200.8,1105.6 L201.9,1104.0 L203.0,1104.3 L204.1,1097.9 L205.2,1097.2 L206.3,1097.1 L207.4,1100.1 L208.5,1102.7 L209.6,1103.3 L210.7,1104.1 L211.8,1099.9 L213.0,1094.4 L214.1,1096.3 L215.2,1097.9 L216.3,1099.2 L217.4,1097.6 L218.5,1096.6 L219.6,1098.5 L220.7,1101.1 L221.8,1102.2 L222.9,1097.8 L224.0,1094.8 L225.2,1092.5 L226.3,1096.1 L227.4,1096.1 L228.5,1098.1 L229.6,1094.8 L230.7,1092.9 L231.8,1088.5 L232.9,1084.6 L234.0,1087.4 L235.1,1084.5 L236.2,1083.6 L237.4,1089.4 L238.5,1090.0 L239.6,1087.7 L240.7,1080.7 L241.8,1085.4 L242.9,1082.6 L244.0,1080.7 L245.1,1088.8 L246.2,1093.6 L247.3,1089.9 L248.4,1090.1 L249.6,1086.5 L250.7,1086.1 L251.8,1087.0 L252.9,1090.1 L254.0,1086.2 L255.1,1085.7 L256.2,1089.3 L257.3,1084.2 L258.4,1078.1 L259.5,1077.5 L260.6,1082.7 L261.8,1078.2 L262.9,1083.5 L264.0,1083.5 L265.1,1082.9 L266.2,1081.9 L267.3,1082.3 L268.4,1081.7 L269.5,1080.9 L270.6,1082.7 L271.7,1081.5 L272.8,1076.7 L274.0,1080.8 L275.1,1086.1 L276.2,1077.5 L277.3,1078.4 L278.4,1078.0 L279.5,1077.5 L280.6,1074.6 L281.7,1071.9 L282.8,1077.3 L283.9,1075.1 L285.0,1077.1 L286.2,1080.0 L287.3,1078.8 L288.4,1073.4 L289.5,1070.4 L290.6,1072.8 L291.7,1076.5 L292.8,1076.1 L293.9,1075.6 L295.0,1075.1 L296.1,1077.8 L297.2,1075.6 L298.4,1072.6 L299.5,1073.0 L300.6,1070.3 L301.7,1076.0 L302.8,1072.7 L303.9,1066.5 L305.0,1061.3 L306.1,1064.8 L307.2,1067.9 L308.3,1063.8 L309.4,1067.8 L310.5,1077.1 L311.7,1076.7 L312.8,1066.7 L313.9,1068.1 L315.0,1066.6 L316.1,1064.7 L317.2,1066.4 L318.3,1064.9 L319.4,1064.9 L320.5,1066.9 L321.6,1065.0 L322.7,1057.2 L323.9,1060.7 L325.0,1067.3 L326.1,1066.3 L327.2,1060.5 L328.3,1063.2 L329.4,1059.3 L330.5,1058.3 L331.6,1054.2 L332.7,1063.4 L333.8,1061.0 L334.9,1061.8 L336.1,1060.8 L337.2,1063.4 L338.3,1058.0 L339.4,1052.1 L340.5,1053.2 L341.6,1046.7 L342.7,1045.2 L343.8,1049.3 L344.9,1058.5 L346.0,1055.3 L347.1,1051.4 L348.3,1050.6 L349.4,1046.6 L350.5,1048.9 L351.6,1059.2 L352.7,1055.1 L353.8,1047.7 L354.9,1054.4 L356.0,1051.7 L357.1,1049.2 L358.2,1050.8 L359.3,1049.9 L360.5,1045.4 L361.6,1051.9 L362.7,1052.4 L363.8,1052.4 L364.9,1045.8 L366.0,1047.7 L367.1,1046.7 L368.2,1047.2 L369.3,1049.9 L370.4,1054.9 L371.5,1046.6 L372.7,1045.4 L373.8,1045.1 L374.9,1053.9 L376.0,1054.2 L377.1,1057.0 L378.2,1053.1 L379.3,1054.0 L380.4,1050.3 L381.5,1046.7 L382.6,1046.9 L383.7,1050.0 L384.9,1045.8 L386.0,1051.4 L387.1,1047.9 L388.2,1050.7 L389.3,1046.6 L390.4,1046.8 L391.5,1043.3 L392.6,1048.7 L393.7,1043.9 L394.8,1052.8 L395.9,1048.1 L397.1,1052.2 L398.2,1051.9 L399.3,1054.8 L400.4,1052.6 L401.5,1052.6 L402.6,1052.2 L403.7,1049.1 L404.8,1046.0 L405.9,1047.2 L407.0,1042.6 L408.1,1045.8 L409.2,1048.9 L410.4,1049.3 L411.5,1045.9 L412.6,1042.2 L413.7,1041.5 L414.8,1045.3 L415.9,1046.3 L417.0,1043.0 L418.1,1042.3 L419.2,1045.4 L420.3,1039.9 L421.4,1040.4 L422.6,1038.2 L423.7,1036.8 L424.8,1036.0 L425.9,1026.3 L427.0,1037.7 L428.1,1036.0 L429.2,1036.4 L430.3,1038.1 L431.4,1035.3 L432.5,1031.1 L433.6,1029.1 L434.8,1025.1 L435.9,1022.4 L437.0,1025.5 L438.1,1029.6 L439.2,1026.8 L440.3,1025.0 L441.4,1024.9 L442.5,1026.4 L443.6,1024.7 L444.7,1024.7 L445.8,1020.8 L447.0,1020.5 L448.1,1021.8 L449.2,1019.5 L450.3,1018.8 L451.4,1015.6 L452.5,1014.0 L453.6,1013.9 L454.7,1014.1 L455.8,1016.6 L456.9,1015.2 L458.0,1009.2 L459.2,1007.6 L460.3,1015.1 L461.4,1008.9 L462.5,1008.7 L463.6,1004.6 L464.7,1003.6 L465.8,1010.0 L466.9,1006.3 L468.0,1005.8 L469.1,1006.4 L470.2,1005.6 L471.4,1000.2 L472.5,1000.4 L473.6,1000.6 L474.7,1000.5 L475.8,999.1 L476.9,1003.2 L478.0,999.1 L479.1,994.1 L480.2,993.7 L481.3,994.0 L482.4,995.5 L483.6,993.3 L484.7,988.2 L485.8,989.7 L486.9,988.9" fill="none" stroke="#BEBEBE" stroke-width="7.5" stroke-linejoin="round" stroke-linecap="round"/>
<path d="M424.8,984.2 L425.9,985.2 L427.0,989.9 L428.1,978.7 L429.2,977.6 L430.3,977.3 L431.4,981.4 L432.5,979.0 L433.6,983.9 L434.8,982.7 L435.9,985.6 L437.0,980.5 L438.1,981.1 L439.2,979.8 L440.3,974.7 L441.4,980.2 L442.5,980.6 L443.6,972.3 L444.7,967.5 L445.8,975.1 L447.0,974.2 L448.1,982.3 L449.2,981.0 L450.3,972.3 L451.4,974.9 L452.5,977.8 L453.6,974.5 L454.7,975.8 L455.8,977.5 L456.9,977.3 L458.0,978.3 L459.2,975.9 L460.3,965.4 L461.4,969.4 L462.5,962.4 L463.6,968.5 L464.7,968.3 L465.8,972.6 L466.9,974.3 L468.0,971.5 L469.1,964.4 L470.2,964.4 L471.4,963.4 L472.5,963.6 L473.6,967.0 L474.7,967.1 L475.8,960.7 L476.9,967.9 L478.0,966.6 L479.1,963.4 L480.2,967.2 L481.3,961.5 L482.4,962.5 L483.6,961.8 L484.7,962.4 L485.8,962.3 L486.9,969.9 L488.0,962.7 L489.1,966.0 L490.2,962.5 L491.3,953.7 L492.4,955.4 L493.5,960.8 L494.6,961.0 L495.8,958.7 L496.9,953.7 L498.0,953.0 L499.1,958.0 L500.2,954.7 L501.3,956.2 L502.4,956.7 L503.5,958.8 L504.6,950.0 L505.7,947.9 L506.8,949.4 L508.0,948.8 L509.1,945.1 L510.2,944.3 L511.3,947.6 L512.4,949.4 L513.5,944.7 L514.6,946.9 L515.7,944.4 L516.8,937.8 L517.9,940.6 L519.0,936.2 L520.1,943.1 L521.3,936.6 L522.4,937.2 L523.5,943.3 L524.6,937.4 L525.7,940.7 L526.8,929.5 L527.9,925.6 L529.0,933.0 L530.1,927.9 L531.2,937.8 L532.3,935.9 L533.5,929.6 L534.6,934.2 L535.7,936.4 L536.8,929.8 L537.9,929.4 L539.0,927.1 L540.1,926.5 L541.2,921.8 L542.3,930.7 L543.4,930.0 L544.5,929.4 L545.7,935.4 L546.8,929.3 L547.9,925.8 L549.0,925.1 L550.1,925.1 L551.2,920.6 L552.3,925.3 L553.4,920.8 L554.5,932.4 L555.6,925.9 L556.7,923.1 L557.9,920.7 L559.0,926.6 L560.1,921.9 L561.2,917.3 L562.3,920.6 L563.4,922.6 L564.5,917.3 L565.6,919.3 L566.7,929.7 L567.8,926.8 L568.9,913.7 L570.1,918.3 L571.2,922.8 L572.3,916.7 L573.4,923.6 L574.5,916.4 L575.6,919.5 L576.7,924.0 L577.8,917.6 L578.9,918.0 L580.0,917.2 L581.1,928.6 L582.3,918.1 L583.4,911.5 L584.5,907.7 L585.6,910.1 L586.7,906.9 L587.8,911.4 L588.9,915.2 L590.0,909.4 L591.1,909.1 L592.2,910.0 L593.3,907.7 L594.5,908.0 L595.6,912.5 L596.7,902.4 L597.8,905.7 L598.9,902.7 L600.0,909.3 L601.1,908.1 L602.2,902.4 L603.3,911.3 L604.4,906.8 L605.5,898.2 L606.7,901.0 L607.8,903.7 L608.9,887.6 L610.0,892.5 L611.1,896.6 L612.2,896.2 L613.3,894.5 L614.4,896.5 L615.5,893.0 L616.6,894.1 L617.7,886.1 L618.9,888.5 L620.0,886.1 L621.1,882.9 L622.2,889.4 L623.3,880.2 L624.4,881.0 L625.5,875.3 L626.6,874.7 L627.7,876.8 L628.8,873.3 L629.9,879.1 L631.0,878.9 L632.2,874.2 L633.3,872.9 L634.4,873.8 L635.5,864.1 L636.6,870.3 L637.7,861.3 L638.8,862.3 L639.9,857.9 L641.0,867.0 L642.1,862.1 L643.2,849.7 L644.4,850.6 L645.5,851.4 L646.6,844.7 L647.7,841.8 L648.8,848.4 L649.9,831.9 L651.0,839.8 L652.1,831.1 L653.2,838.5 L654.3,830.7 L655.4,829.8 L656.6,809.0 L657.7,800.6 L658.8,812.4 L659.9,810.6 L661.0,794.0 L662.1,790.7 L663.2,775.8 L664.3,777.2 L665.4,775.7 L666.5,775.7 L667.6,773.0 L668.8,763.6 L669.9,747.8 L671.0,755.3 L672.1,760.3 L673.2,753.3 L674.3,748.7 L675.4,736.8 L676.5,722.4 L677.6,719.7 L678.7,711.7 L679.8,695.7 L681.0,672.4 L682.1,664.1 L683.2,647.6 L684.3,604.5 L685.4,571.4" fill="none" stroke="#2E8B57" stroke-width="7.5" stroke-linejoin="round" stroke-linecap="round"/>
<path d="M486.9,988.9 L488.0,988.3 L489.1,991.1 L490.2,986.3 L491.3,987.0 L492.4,987.9 L493.5,983.5 L494.6,976.8 L495.8,974.9 L496.9,977.7 L498.0,982.0 L499.1,979.4 L500.2,985.8 L501.3,987.2 L502.4,983.9 L503.5,981.4 L504.6,978.5 L505.7,978.1 L506.8,980.4 L508.0,973.3 L509.1,973.8 L510.2,973.3 L511.3,973.6 L512.4,971.7 L513.5,974.7 L514.6,970.2 L515.7,967.2 L516.8,962.4 L517.9,965.7 L519.0,962.2 L520.1,961.4 L521.3,963.8 L522.4,965.9 L523.5,963.3 L524.6,961.3 L525.7,959.2 L526.8,958.3 L527.9,957.7 L529.0,957.6 L530.1,958.2 L531.2,956.2 L532.3,955.9 L533.5,952.4 L534.6,953.2 L535.7,949.7 L536.8,940.8 L537.9,935.8 L539.0,935.3 L540.1,937.8 L541.2,946.0 L542.3,944.2 L543.4,935.5 L544.5,933.4 L545.7,932.6 L546.8,933.5 L547.9,924.3 L549.0,924.5 L550.1,917.0 L551.2,915.7 L552.3,911.3 L553.4,915.2 L554.5,904.6 L555.6,910.7 L556.7,908.9 L557.9,906.9 L559.0,901.2 L560.1,906.7 L561.2,905.1 L562.3,900.9 L563.4,895.0 L564.5,903.5 L565.6,897.2 L566.7,895.9 L567.8,890.7 L568.9,887.9 L570.1,887.7 L571.2,891.3 L572.3,883.0 L573.4,891.9 L574.5,894.1 L575.6,888.1 L576.7,884.7 L577.8,883.5 L578.9,873.8 L580.0,874.7 L581.1,871.8 L582.3,868.2 L583.4,873.2 L584.5,872.1 L585.6,872.7 L586.7,870.7 L587.8,862.9 L588.9,863.9 L590.0,860.7 L591.1,862.3 L592.2,852.2 L593.3,849.8 L594.5,850.0 L595.6,851.6 L596.7,845.1 L597.8,844.3 L598.9,851.2 L600.0,844.4 L601.1,848.7 L602.2,847.8 L603.3,833.5 L604.4,832.6 L605.5,825.7 L606.7,828.5 L607.8,825.4 L608.9,820.0 L610.0,826.0 L611.1,831.0 L612.2,817.3 L613.3,815.4 L614.4,815.6 L615.5,814.8 L616.6,818.2 L617.7,808.8 L618.9,808.0 L620.0,813.7 L621.1,796.0 L622.2,797.6 L623.3,806.5 L624.4,798.3 L625.5,798.3 L626.6,800.0 L627.7,787.4 L628.8,795.9 L629.9,787.2 L631.0,787.0 L632.2,783.0 L633.3,781.8 L634.4,783.7 L635.5,786.5 L636.6,773.5 L637.7,774.1 L638.8,772.3 L639.9,771.5 L641.0,768.1 L642.1,769.2 L643.2,766.0 L644.4,765.7 L645.5,759.2 L646.6,755.5 L647.7,750.6 L648.8,747.7 L649.9,754.8 L651.0,737.7 L652.1,730.9 L653.2,739.1 L654.3,736.2 L655.4,744.1 L656.6,746.1 L657.7,738.7 L658.8,737.0 L659.9,718.9 L661.0,725.5 L662.1,717.1 L663.2,699.8 L664.3,728.8 L665.4,720.6 L666.5,709.3 L667.6,731.3 L668.8,724.7 L669.9,720.5 L671.0,700.4 L672.1,684.1 L673.2,687.8 L674.3,707.5 L675.4,713.0 L676.5,713.6 L677.6,722.5 L678.7,717.6 L679.8,718.2 L681.0,723.2 L682.1,728.0 L683.2,686.5 L684.3,637.5 L685.4,590.4" fill="none" stroke="#F1C40F" stroke-width="7.5" stroke-linejoin="round" stroke-linecap="round"/>
<clipPath id="clipc"><rect x="1010.1" y="542.7" width="619.1" height="261.5999999999999"/></clipPath>
<g clip-path="url(#clipc)">
<text transform="translate(1000.07,804.46) scale(0.4702,0.0128)" font-family="'DejaVu Sans','Liberation Sans',sans-serif" font-size="200" fill="#FF0000" font-weight="bold" >U</text>
<text transform="translate(1004.48,802.56) scale(0.4238,0.0132)" font-family="'DejaVu Sans','Liberation Sans',sans-serif" font-size="200" fill="#FFA500" font-weight="bold" >G</text>
<text transform="translate(1008.32,800.60) scale(0.3867,0.0206)" font-family="'DejaVu Sans','Liberation Sans',sans-serif" font-size="200" fill="#008000" font-weight="bold" >A</text>
<text transform="translate(1003.95,797.54) scale(0.4765,0.0205)" font-family="'DejaVu Sans','Liberation Sans',sans-serif" font-size="200" fill="#0000FF" font-weight="bold" >C</text>
<text transform="translate(1062.57,804.43) scale(0.4702,0.0256)" font-family="'DejaVu Sans','Liberation Sans',sans-serif" font-size="200" fill="#FF0000" font-weight="bold" >U</text>
<text transform="translate(1066.98,800.67) scale(0.4238,0.0099)" font-family="'DejaVu Sans','Liberation Sans',sans-serif" font-size="200" fill="#FFA500" font-weight="bold" >G</text>
<text transform="translate(1066.45,799.14) scale(0.4765,0.0198)" font-family="'DejaVu Sans','Liberation Sans',sans-serif" font-size="200" fill="#0000FF" font-weight="bold" >C</text>
<text transform="translate(1125.07,804.38) scale(0.4702,0.0410)" font-family="'DejaVu Sans','Liberation Sans',sans-serif" font-size="200" fill="#FF0000" font-weight="bold" >U</text>
<text transform="translate(1129.48,798.24) scale(0.4238,0.0555)" font-family="'DejaVu Sans','Liberation Sans',sans-serif" font-size="200" fill="#FFA500" font-weight="bold" >G</text>
<text transform="translate(1133.32,790.00) scale(0.3867,0.0706)" font-family="'DejaVu Sans','Liberation Sans',sans-serif" font-size="200" fill="#008000" font-weight="bold" >A</text>
<text transform="translate(1128.95,779.39) scale(0.4765,0.1084)" font-family="'DejaVu Sans','Liberation Sans',sans-serif" font-size="200" fill="#0000FF" font-weight="bold" >C</text>
<text transform="translate(1187.57,804.46) scale(0.4702,0.0128)" font-family="'DejaVu Sans','Liberation Sans',sans-serif" font-size="200" fill="#FF0000" font-weight="bold" >U</text>
<text transform="translate(1191.98,802.58) scale(0.4238,0.0066)" font-family="'DejaVu Sans','Liberation Sans',sans-serif" font-size="200" fill="#FFA500" font-weight="bold" >G</text>
<text transform="translate(1195.82,801.60) scale(0.3867,0.0206)" font-family="'DejaVu Sans','Liberation Sans',sans-serif" font-size="200" fill="#008000" font-weight="bold" >A</text>
<text transform="translate(1191.45,798.53) scale(0.4765,0.0238)" font-family="'DejaVu Sans','Liberation Sans',sans-serif" font-size="200" fill="#0000FF" font-weight="bold" >C</text>
<text transform="translate(1258.32,804.50) scale(0.3867,0.0254)" font-family="'DejaVu Sans','Liberation Sans',sans-serif" font-size="200" fill="#008000" font-weight="bold" >A</text>
<text transform="translate(1254.48,800.76) scale(0.4238,0.0145)" font-family="'DejaVu Sans','Liberation Sans',sans-serif" font-size="200" fill="#FFA500" font-weight="bold" >G</text>
<text transform="translate(1253.95,798.54) scale(0.4765,0.0205)" font-family="'DejaVu Sans','Liberation Sans',sans-serif" font-size="200" fill="#0000FF" font-weight="bold" >C</text>
<text transform="translate(1312.57,804.22) scale(0.4702,0.0989)" font-family="'DejaVu Sans','Liberation Sans',sans-serif" font-size="200" fill="#FF0000" font-weight="bold" >U</text>
<text transform="translate(1316.98,789.52) scale(0.4238,0.0972)" font-family="'DejaVu Sans','Liberation Sans',sans-serif" font-size="200" fill="#FFA500" font-weight="bold" >G</text>
<text transform="translate(1320.82,775.10) scale(0.3867,0.1289)" font-family="'DejaVu Sans','Liberation Sans',sans-serif" font-size="200" fill="#008000" font-weight="bold" >A</text>
<text transform="translate(1316.45,755.44) scale(0.4765,0.3021)" font-family="'DejaVu Sans','Liberation Sans',sans-serif" font-size="200" fill="#0000FF" font-weight="bold" >C</text>
<text transform="translate(1375.07,804.43) scale(0.4702,0.0262)" font-family="'DejaVu Sans','Liberation Sans',sans-serif" font-size="200" fill="#FF0000" font-weight="bold" >U</text>
<text transform="translate(1379.48,800.45) scale(0.4238,0.0542)" font-family="'DejaVu Sans','Liberation Sans',sans-serif" font-size="200" fill="#FFA500" font-weight="bold" >G</text>
<text transform="translate(1383.32,792.40) scale(0.3867,0.0775)" font-family="'DejaVu Sans','Liberation Sans',sans-serif" font-size="200" fill="#008000" font-weight="bold" >A</text>
<text transform="translate(1378.95,780.87) scale(0.4765,0.0800)" font-family="'DejaVu Sans','Liberation Sans',sans-serif" font-size="200" fill="#0000FF" font-weight="bold" >C</text>
<text transform="translate(1437.57,804.40) scale(0.4702,0.0336)" font-family="'DejaVu Sans','Liberation Sans',sans-serif" font-size="200" fill="#FF0000" font-weight="bold" >U</text>
<text transform="translate(1441.45,799.22) scale(0.4765,0.1005)" font-family="'DejaVu Sans','Liberation Sans',sans-serif" font-size="200" fill="#0000FF" font-weight="bold" >C</text>
<text transform="translate(1441.98,783.94) scale(0.4238,0.1269)" font-family="'DejaVu Sans','Liberation Sans',sans-serif" font-size="200" fill="#FFA500" font-weight="bold" >G</text>
<text transform="translate(1445.82,765.10) scale(0.3867,0.1653)" font-family="'DejaVu Sans','Liberation Sans',sans-serif" font-size="200" fill="#008000" font-weight="bold" >A</text>
<text transform="translate(1504.48,804.25) scale(0.4238,0.0886)" font-family="'DejaVu Sans','Liberation Sans',sans-serif" font-size="200" fill="#FFA500" font-weight="bold" >G</text>
<text transform="translate(1500.07,790.72) scale(0.4702,0.1339)" font-family="'DejaVu Sans','Liberation Sans',sans-serif" font-size="200" fill="#FF0000" font-weight="bold" >U</text>
<text transform="translate(1508.32,771.20) scale(0.3867,0.5014)" font-family="'DejaVu Sans','Liberation Sans',sans-serif" font-size="200" fill="#008000" font-weight="bold" >A</text>
<text transform="translate(1503.95,695.84) scale(0.4765,0.7979)" font-family="'DejaVu Sans','Liberation Sans',sans-serif" font-size="200" fill="#0000FF" font-weight="bold" >C</text>
<text transform="translate(1562.57,804.36) scale(0.4702,0.0505)" font-family="'DejaVu Sans','Liberation Sans',sans-serif" font-size="200" fill="#FF0000" font-weight="bold" >U</text>
<text transform="translate(1570.82,797.00) scale(0.3867,0.1955)" font-family="'DejaVu Sans','Liberation Sans',sans-serif" font-size="200" fill="#008000" font-weight="bold" >A</text>
<text transform="translate(1566.98,767.21) scale(0.4238,0.4555)" font-family="'DejaVu Sans','Liberation Sans',sans-serif" font-size="200" fill="#FFA500" font-weight="bold" >G</text>
<text transform="translate(1566.45,697.74) scale(0.4765,0.6551)" font-family="'DejaVu Sans','Liberation Sans',sans-serif" font-size="200" fill="#0000FF" font-weight="bold" >C</text>
</g>
<rect x="1010.1" y="542.7" width="619.1" height="261.5999999999999" fill="none" stroke="#222" stroke-width="1.5"/>
<rect x="1002.1" y="542.10" width="8.0" height="1.6" fill="#222"/>
<text transform="translate(956.33,550.10) scale(1.0500,1.0000)" font-family="'Liberation Sans',sans-serif" font-size="24.0" fill="#000" >0.5</text>
<rect x="1002.1" y="594.50" width="8.0" height="1.6" fill="#222"/>
<text transform="translate(956.01,602.50) scale(1.0500,1.0000)" font-family="'Liberation Sans',sans-serif" font-size="24.0" fill="#000" >0.4</text>
<rect x="1002.1" y="646.90" width="8.0" height="1.6" fill="#222"/>
<text transform="translate(956.38,654.90) scale(1.0500,1.0000)" font-family="'Liberation Sans',sans-serif" font-size="24.0" fill="#000" >0.3</text>
<rect x="1002.1" y="698.90" width="8.0" height="1.6" fill="#222"/>
<text transform="translate(956.54,706.90) scale(1.0500,1.0000)" font-family="'Liberation Sans',sans-serif" font-size="24.0" fill="#000" >0.2</text>
<rect x="1002.1" y="751.70" width="8.0" height="1.6" fill="#222"/>
<text transform="translate(960.54,759.70) scale(0.9245,1.0000)" font-family="'Liberation Sans',sans-serif" font-size="24.0" fill="#000" >0.1</text>
<rect x="1002.1" y="803.00" width="8.0" height="1.6" fill="#222"/>
<text transform="translate(977.27,811.00) scale(1.0500,1.0000)" font-family="'Liberation Sans',sans-serif" font-size="24.0" fill="#000" >0</text>
<rect x="1037.20" y="804.3" width="1.6" height="8.0" fill="#222"/>
<text transform="translate(1020.42,841.90) scale(0.9929,1.0000)" font-family="'Liberation Sans',sans-serif" font-size="24.0" fill="#000" ><tspan textLength="8.81" lengthAdjust="spacingAndGlyphs" stroke="#000" stroke-width="0.4">–</tspan><tspan dx="0.84">10</tspan></text>
<rect x="1099.70" y="804.3" width="1.6" height="8.0" fill="#222"/>
<text transform="translate(1088.37,841.90) scale(1.1100,1.0000)" font-family="'Liberation Sans',sans-serif" font-size="24.0" fill="#000" ><tspan textLength="8.81" lengthAdjust="spacingAndGlyphs" stroke="#000" stroke-width="0.4">–</tspan><tspan dx="0.84">9</tspan></text>
<rect x="1162.20" y="804.3" width="1.6" height="8.0" fill="#222"/>
<text transform="translate(1150.82,841.90) scale(1.1100,1.0000)" font-family="'Liberation Sans',sans-serif" font-size="24.0" fill="#000" ><tspan textLength="8.81" lengthAdjust="spacingAndGlyphs" stroke="#000" stroke-width="0.4">–</tspan><tspan dx="0.84">8</tspan></text>
<rect x="1224.70" y="804.3" width="1.6" height="8.0" fill="#222"/>
<text transform="translate(1213.41,841.90) scale(1.1100,1.0000)" font-family="'Liberation Sans',sans-serif" font-size="24.0" fill="#000" ><tspan textLength="8.81" lengthAdjust="spacingAndGlyphs" stroke="#000" stroke-width="0.4">–</tspan><tspan dx="0.84">7</tspan></text>
<rect x="1287.20" y="804.3" width="1.6" height="8.0" fill="#222"/>
<text transform="translate(1275.82,841.90) scale(1.1100,1.0000)" font-family="'Liberation Sans',sans-serif" font-size="24.0" fill="#000" ><tspan textLength="8.81" lengthAdjust="spacingAndGlyphs" stroke="#000" stroke-width="0.4">–</tspan><tspan dx="0.84">6</tspan></text>
<rect x="1349.70" y="804.3" width="1.6" height="8.0" fill="#222"/>
<text transform="translate(1338.30,841.90) scale(1.1100,1.0000)" font-family="'Liberation Sans',sans-serif" font-size="24.0" fill="#000" ><tspan textLength="8.81" lengthAdjust="spacingAndGlyphs" stroke="#000" stroke-width="0.4">–</tspan><tspan dx="0.84">5</tspan></text>
<rect x="1412.20" y="804.3" width="1.6" height="8.0" fill="#222"/>
<text transform="translate(1400.63,841.90) scale(1.1100,1.0000)" font-family="'Liberation Sans',sans-serif" font-size="24.0" fill="#000" ><tspan textLength="8.81" lengthAdjust="spacingAndGlyphs" stroke="#000" stroke-width="0.4">–</tspan><tspan dx="0.84">4</tspan></text>
<rect x="1474.70" y="804.3" width="1.6" height="8.0" fill="#222"/>
<text transform="translate(1463.32,841.90) scale(1.1100,1.0000)" font-family="'Liberation Sans',sans-serif" font-size="24.0" fill="#000" ><tspan textLength="8.81" lengthAdjust="spacingAndGlyphs" stroke="#000" stroke-width="0.4">–</tspan><tspan dx="0.84">3</tspan></text>
<rect x="1537.20" y="804.3" width="1.6" height="8.0" fill="#222"/>
<text transform="translate(1525.91,841.90) scale(1.1100,1.0000)" font-family="'Liberation Sans',sans-serif" font-size="24.0" fill="#000" ><tspan textLength="8.81" lengthAdjust="spacingAndGlyphs" stroke="#000" stroke-width="0.4">–</tspan><tspan dx="0.84">2</tspan></text>
<rect x="1599.70" y="804.3" width="1.6" height="8.0" fill="#222"/>
<text transform="translate(1590.46,841.90) scale(0.9200,1.0000)" font-family="'Liberation Sans',sans-serif" font-size="24.0" fill="#000" ><tspan textLength="8.81" lengthAdjust="spacingAndGlyphs" stroke="#000" stroke-width="0.4">–</tspan><tspan dx="0.84">1</tspan></text>
<text transform="translate(1030.59,589.10) scale(1.0415,1.0000)" font-family="'Liberation Sans',sans-serif" font-size="27.1" fill="#000" font-style="italic" stroke="#fff" stroke-width="0.096" paint-order="fill stroke" >A. thaliana</text>
<text transform="translate(936.20,697.11) rotate(-90) scale(1.0607,1.0000)" font-family="'Liberation Sans',sans-serif" font-size="26.6" fill="#000" stroke="#fff" stroke-width="0.094" paint-order="fill stroke" >Bits</text>
<text transform="translate(913.36,548.35) scale(0.9840,0.8898)" font-family="'Liberation Sans',sans-serif" font-size="40" font-weight="bold" fill="#000" stroke="#000" stroke-width="2.56" stroke-linejoin="round">c</text>
<clipPath id="clipd"><rect x="1005.5" y="873.1" width="620.7" height="262.19999999999993"/></clipPath>
<g clip-path="url(#clipd)">
<text transform="translate(996.83,1135.72) scale(0.4670,0.0283)" font-family="'DejaVu Sans','Liberation Sans',sans-serif" font-size="200" fill="#FF0000" font-weight="bold" >U</text>
<text transform="translate(1001.21,1131.48) scale(0.4209,0.0436)" font-family="'DejaVu Sans','Liberation Sans',sans-serif" font-size="200" fill="#FFA500" font-weight="bold" >G</text>
<text transform="translate(1000.69,1124.78) scale(0.4733,0.0780)" font-family="'DejaVu Sans','Liberation Sans',sans-serif" font-size="200" fill="#0000FF" font-weight="bold" >C</text>
<text transform="translate(1005.02,1113.20) scale(0.3841,0.1276)" font-family="'DejaVu Sans','Liberation Sans',sans-serif" font-size="200" fill="#008000" font-weight="bold" >A</text>
<text transform="translate(1059.36,1135.74) scale(0.4670,0.0209)" font-family="'DejaVu Sans','Liberation Sans',sans-serif" font-size="200" fill="#FF0000" font-weight="bold" >U</text>
<text transform="translate(1063.74,1132.60) scale(0.4209,0.0337)" font-family="'DejaVu Sans','Liberation Sans',sans-serif" font-size="200" fill="#FFA500" font-weight="bold" >G</text>
<text transform="translate(1063.22,1127.46) scale(0.4733,0.0502)" font-family="'DejaVu Sans','Liberation Sans',sans-serif" font-size="200" fill="#0000FF" font-weight="bold" >C</text>
<text transform="translate(1067.55,1120.00) scale(0.3841,0.0638)" font-family="'DejaVu Sans','Liberation Sans',sans-serif" font-size="200" fill="#008000" font-weight="bold" >A</text>
<text transform="translate(1126.27,1135.72) scale(0.4209,0.0297)" font-family="'DejaVu Sans','Liberation Sans',sans-serif" font-size="200" fill="#FFA500" font-weight="bold" >G</text>
<text transform="translate(1121.89,1131.18) scale(0.4670,0.0424)" font-family="'DejaVu Sans','Liberation Sans',sans-serif" font-size="200" fill="#FF0000" font-weight="bold" >U</text>
<text transform="translate(1125.75,1124.72) scale(0.4733,0.0998)" font-family="'DejaVu Sans','Liberation Sans',sans-serif" font-size="200" fill="#0000FF" font-weight="bold" >C</text>
<text transform="translate(1130.08,1109.90) scale(0.3841,0.1235)" font-family="'DejaVu Sans','Liberation Sans',sans-serif" font-size="200" fill="#008000" font-weight="bold" >A</text>
<text transform="translate(1184.42,1135.75) scale(0.4670,0.0168)" font-family="'DejaVu Sans','Liberation Sans',sans-serif" font-size="200" fill="#FF0000" font-weight="bold" >U</text>
<text transform="translate(1188.80,1133.19) scale(0.4209,0.0377)" font-family="'DejaVu Sans','Liberation Sans',sans-serif" font-size="200" fill="#FFA500" font-weight="bold" >G</text>
<text transform="translate(1188.28,1127.47) scale(0.4733,0.0443)" font-family="'DejaVu Sans','Liberation Sans',sans-serif" font-size="200" fill="#0000FF" font-weight="bold" >C</text>
<text transform="translate(1192.61,1120.90) scale(0.3841,0.0700)" font-family="'DejaVu Sans','Liberation Sans',sans-serif" font-size="200" fill="#008000" font-weight="bold" >A</text>
<text transform="translate(1246.95,1135.75) scale(0.4670,0.0168)" font-family="'DejaVu Sans','Liberation Sans',sans-serif" font-size="200" fill="#FF0000" font-weight="bold" >U</text>
<text transform="translate(1251.33,1133.19) scale(0.4209,0.0377)" font-family="'DejaVu Sans','Liberation Sans',sans-serif" font-size="200" fill="#FFA500" font-weight="bold" >G</text>
<text transform="translate(1250.81,1127.47) scale(0.4733,0.0443)" font-family="'DejaVu Sans','Liberation Sans',sans-serif" font-size="200" fill="#0000FF" font-weight="bold" >C</text>
<text transform="translate(1255.14,1120.90) scale(0.3841,0.0700)" font-family="'DejaVu Sans','Liberation Sans',sans-serif" font-size="200" fill="#008000" font-weight="bold" >A</text>
<text transform="translate(1313.86,1135.71) scale(0.4209,0.0324)" font-family="'DejaVu Sans','Liberation Sans',sans-serif" font-size="200" fill="#FFA500" font-weight="bold" >G</text>
<text transform="translate(1309.48,1130.75) scale(0.4670,0.0518)" font-family="'DejaVu Sans','Liberation Sans',sans-serif" font-size="200" fill="#FF0000" font-weight="bold" >U</text>
<text transform="translate(1317.67,1123.20) scale(0.3841,0.0974)" font-family="'DejaVu Sans','Liberation Sans',sans-serif" font-size="200" fill="#008000" font-weight="bold" >A</text>
<text transform="translate(1313.34,1108.59) scale(0.4733,0.1454)" font-family="'DejaVu Sans','Liberation Sans',sans-serif" font-size="200" fill="#0000FF" font-weight="bold" >C</text>
<text transform="translate(1376.39,1135.64) scale(0.4209,0.0549)" font-family="'DejaVu Sans','Liberation Sans',sans-serif" font-size="200" fill="#FFA500" font-weight="bold" >G</text>
<text transform="translate(1372.01,1127.31) scale(0.4670,0.0680)" font-family="'DejaVu Sans','Liberation Sans',sans-serif" font-size="200" fill="#FF0000" font-weight="bold" >U</text>
<text transform="translate(1375.87,1116.80) scale(0.4733,0.2115)" font-family="'DejaVu Sans','Liberation Sans',sans-serif" font-size="200" fill="#0000FF" font-weight="bold" >C</text>
<text transform="translate(1380.20,1085.40) scale(0.3841,0.5075)" font-family="'DejaVu Sans','Liberation Sans',sans-serif" font-size="200" fill="#008000" font-weight="bold" >A</text>
<text transform="translate(1434.54,1135.73) scale(0.4670,0.0256)" font-family="'DejaVu Sans','Liberation Sans',sans-serif" font-size="200" fill="#FF0000" font-weight="bold" >U</text>
<text transform="translate(1438.40,1131.85) scale(0.4733,0.0535)" font-family="'DejaVu Sans','Liberation Sans',sans-serif" font-size="200" fill="#0000FF" font-weight="bold" >C</text>
<text transform="translate(1438.92,1123.56) scale(0.4209,0.1197)" font-family="'DejaVu Sans','Liberation Sans',sans-serif" font-size="200" fill="#FFA500" font-weight="bold" >G</text>
<text transform="translate(1442.73,1105.80) scale(0.3841,0.1502)" font-family="'DejaVu Sans','Liberation Sans',sans-serif" font-size="200" fill="#008000" font-weight="bold" >A</text>
<text transform="translate(1497.07,1135.66) scale(0.4670,0.0478)" font-family="'DejaVu Sans','Liberation Sans',sans-serif" font-size="200" fill="#FF0000" font-weight="bold" >U</text>
<text transform="translate(1501.45,1128.55) scale(0.4209,0.0542)" font-family="'DejaVu Sans','Liberation Sans',sans-serif" font-size="200" fill="#FFA500" font-weight="bold" >G</text>
<text transform="translate(1505.26,1120.50) scale(0.3841,0.3066)" font-family="'DejaVu Sans','Liberation Sans',sans-serif" font-size="200" fill="#008000" font-weight="bold" >A</text>
<text transform="translate(1500.93,1074.58) scale(0.4733,0.4297)" font-family="'DejaVu Sans','Liberation Sans',sans-serif" font-size="200" fill="#0000FF" font-weight="bold" >C</text>
<text transform="translate(1559.60,1135.69) scale(0.4670,0.0390)" font-family="'DejaVu Sans','Liberation Sans',sans-serif" font-size="200" fill="#FF0000" font-weight="bold" >U</text>
<text transform="translate(1563.98,1129.81) scale(0.4209,0.0688)" font-family="'DejaVu Sans','Liberation Sans',sans-serif" font-size="200" fill="#FFA500" font-weight="bold" >G</text>
<text transform="translate(1567.79,1119.60) scale(0.3841,0.3134)" font-family="'DejaVu Sans','Liberation Sans',sans-serif" font-size="200" fill="#008000" font-weight="bold" >A</text>
<text transform="translate(1563.46,1071.09) scale(0.4733,0.9936)" font-family="'DejaVu Sans','Liberation Sans',sans-serif" font-size="200" fill="#0000FF" font-weight="bold" >C</text>
</g>
<rect x="1005.5" y="873.1" width="620.7" height="262.19999999999993" fill="none" stroke="#222" stroke-width="1.5"/>
<rect x="999.3" y="872.40" width="6.2" height="1.6" fill="#222"/>
<text transform="translate(956.31,881.50) scale(0.9218,1.0000)" font-family="'Liberation Sans',sans-serif" font-size="24.0" fill="#000" >1.0</text>
<rect x="999.3" y="925.00" width="6.2" height="1.6" fill="#222"/>
<text transform="translate(952.26,934.10) scale(1.0500,1.0000)" font-family="'Liberation Sans',sans-serif" font-size="24.0" fill="#000" >0.8</text>
<rect x="999.3" y="977.00" width="6.2" height="1.6" fill="#222"/>
<text transform="translate(952.28,986.10) scale(1.0500,1.0000)" font-family="'Liberation Sans',sans-serif" font-size="24.0" fill="#000" >0.6</text>
<rect x="999.3" y="1029.30" width="6.2" height="1.6" fill="#222"/>
<text transform="translate(951.91,1038.40) scale(1.0500,1.0000)" font-family="'Liberation Sans',sans-serif" font-size="24.0" fill="#000" >0.4</text>
<rect x="999.3" y="1082.20" width="6.2" height="1.6" fill="#222"/>
<text transform="translate(952.44,1091.30) scale(1.0500,1.0000)" font-family="'Liberation Sans',sans-serif" font-size="24.0" fill="#000" >0.2</text>
<rect x="999.3" y="1134.20" width="6.2" height="1.6" fill="#222"/>
<text transform="translate(973.17,1143.30) scale(1.0500,1.0000)" font-family="'Liberation Sans',sans-serif" font-size="24.0" fill="#000" >0</text>
<rect x="1034.90" y="1135.3" width="1.6" height="8.5" fill="#222"/>
<text transform="translate(1018.12,1172.20) scale(0.9929,1.0000)" font-family="'Liberation Sans',sans-serif" font-size="24.0" fill="#000" ><tspan textLength="8.81" lengthAdjust="spacingAndGlyphs" stroke="#000" stroke-width="0.4">–</tspan><tspan dx="0.84">10</tspan></text>
<rect x="1097.43" y="1135.3" width="1.6" height="8.5" fill="#222"/>
<text transform="translate(1086.10,1172.20) scale(1.1100,1.0000)" font-family="'Liberation Sans',sans-serif" font-size="24.0" fill="#000" ><tspan textLength="8.81" lengthAdjust="spacingAndGlyphs" stroke="#000" stroke-width="0.4">–</tspan><tspan dx="0.84">9</tspan></text>
<rect x="1159.96" y="1135.3" width="1.6" height="8.5" fill="#222"/>
<text transform="translate(1148.58,1172.20) scale(1.1100,1.0000)" font-family="'Liberation Sans',sans-serif" font-size="24.0" fill="#000" ><tspan textLength="8.81" lengthAdjust="spacingAndGlyphs" stroke="#000" stroke-width="0.4">–</tspan><tspan dx="0.84">8</tspan></text>
<rect x="1222.49" y="1135.3" width="1.6" height="8.5" fill="#222"/>
<text transform="translate(1211.20,1172.20) scale(1.1100,1.0000)" font-family="'Liberation Sans',sans-serif" font-size="24.0" fill="#000" ><tspan textLength="8.81" lengthAdjust="spacingAndGlyphs" stroke="#000" stroke-width="0.4">–</tspan><tspan dx="0.84">7</tspan></text>
<rect x="1285.02" y="1135.3" width="1.6" height="8.5" fill="#222"/>
<text transform="translate(1273.64,1172.20) scale(1.1100,1.0000)" font-family="'Liberation Sans',sans-serif" font-size="24.0" fill="#000" ><tspan textLength="8.81" lengthAdjust="spacingAndGlyphs" stroke="#000" stroke-width="0.4">–</tspan><tspan dx="0.84">6</tspan></text>
<rect x="1347.55" y="1135.3" width="1.6" height="8.5" fill="#222"/>
<text transform="translate(1336.15,1172.20) scale(1.1100,1.0000)" font-family="'Liberation Sans',sans-serif" font-size="24.0" fill="#000" ><tspan textLength="8.81" lengthAdjust="spacingAndGlyphs" stroke="#000" stroke-width="0.4">–</tspan><tspan dx="0.84">5</tspan></text>
<rect x="1410.08" y="1135.3" width="1.6" height="8.5" fill="#222"/>
<text transform="translate(1398.51,1172.20) scale(1.1100,1.0000)" font-family="'Liberation Sans',sans-serif" font-size="24.0" fill="#000" ><tspan textLength="8.81" lengthAdjust="spacingAndGlyphs" stroke="#000" stroke-width="0.4">–</tspan><tspan dx="0.84">4</tspan></text>
<rect x="1472.61" y="1135.3" width="1.6" height="8.5" fill="#222"/>
<text transform="translate(1461.23,1172.20) scale(1.1100,1.0000)" font-family="'Liberation Sans',sans-serif" font-size="24.0" fill="#000" ><tspan textLength="8.81" lengthAdjust="spacingAndGlyphs" stroke="#000" stroke-width="0.4">–</tspan><tspan dx="0.84">3</tspan></text>
<rect x="1535.14" y="1135.3" width="1.6" height="8.5" fill="#222"/>
<text transform="translate(1523.85,1172.20) scale(1.1100,1.0000)" font-family="'Liberation Sans',sans-serif" font-size="24.0" fill="#000" ><tspan textLength="8.81" lengthAdjust="spacingAndGlyphs" stroke="#000" stroke-width="0.4">–</tspan><tspan dx="0.84">2</tspan></text>
<rect x="1597.67" y="1135.3" width="1.6" height="8.5" fill="#222"/>
<text transform="translate(1588.43,1172.20) scale(0.9200,1.0000)" font-family="'Liberation Sans',sans-serif" font-size="24.0" fill="#000" ><tspan textLength="8.81" lengthAdjust="spacingAndGlyphs" stroke="#000" stroke-width="0.4">–</tspan><tspan dx="0.84">1</tspan></text>
<text transform="translate(1028.75,924.00) scale(1.0331,1.0000)" font-family="'Liberation Sans',sans-serif" font-size="26.6" fill="#000" stroke="#fff" stroke-width="0.097" paint-order="fill stroke" >Rice</text>
<text transform="translate(936.20,1027.58) rotate(-90) scale(1.0437,1.0000)" font-family="'Liberation Sans',sans-serif" font-size="26.6" fill="#000" stroke="#fff" stroke-width="0.096" paint-order="fill stroke" >Bits</text>
<text transform="translate(913.46,880.24) scale(0.9972,0.9157)" font-family="'Liberation Sans',sans-serif" font-size="40" font-weight="bold" fill="#000" stroke="#000" stroke-width="2.51" stroke-linejoin="round">d</text>
</svg>
</body></html>
